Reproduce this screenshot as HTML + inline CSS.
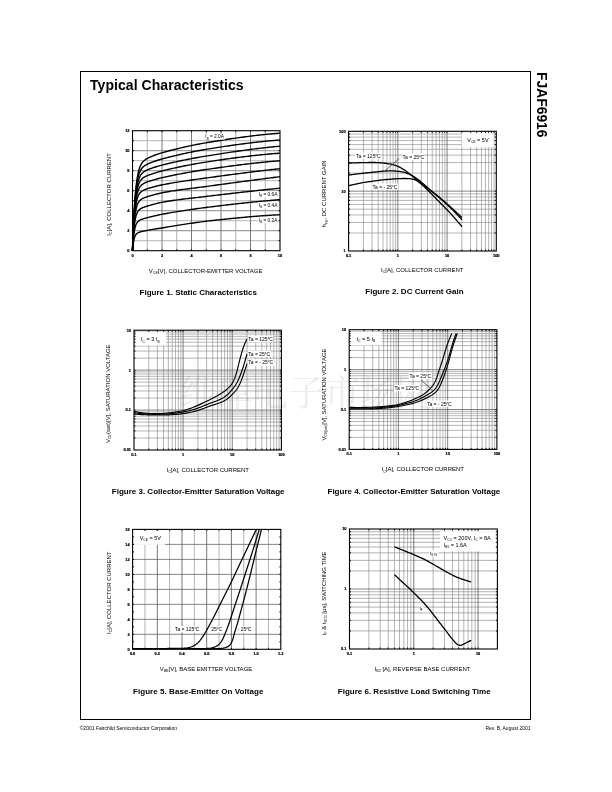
<!DOCTYPE html>
<html lang="en"><head><meta charset="utf-8"><title>FJAF6916 - Typical Characteristics</title>
<style>html,body{margin:0;padding:0;background:#fff}body{width:612px;height:792px;overflow:hidden}svg{display:block}text{font-family:"Liberation Sans",Arial,Helvetica,sans-serif}.wm{font-family:"Liberation Serif","Noto Serif CJK SC",serif}</style></head><body>
<svg width="612" height="792" viewBox="0 0 612 792">
<rect width="612" height="792" fill="#fff"/>
<text class="wm" x="306" y="405.7" font-size="36" text-anchor="middle" fill="#ededed">维库电子市场网</text>
<rect x="80.5" y="71.5" width="450" height="648" fill="none" stroke="#000" stroke-width="1"/>
<text x="90" y="89.8" font-size="14" font-weight="bold" textLength="153.6">Typical Characteristics</text>
<text x="0" y="0" transform="translate(536.6 72.1) rotate(90)" font-size="13.85" font-weight="bold">FJAF6916</text>
<text x="79.7" y="729.7" font-size="5">©2001 Fairchild Semiconductor Corporation</text>
<text x="530.6" y="729.7" font-size="5" text-anchor="end">Rev. B, August 2001</text>
<path d="M132.5 240.7H280M132.5 220.7H280M132.5 200.7H280M132.5 180.7H280M132.5 160.7H280M132.5 140.7H280" stroke="#c4c4c4" stroke-width="1.2" fill="none"/>
<path d="M147.25 130.7V250.7M176.75 130.7V250.7M206.25 130.7V250.7M235.75 130.7V250.7M265.25 130.7V250.7" stroke="#b0b0b0" stroke-width="1.0" fill="none"/>
<path d="M132.5 230.7H280M132.5 210.7H280M132.5 190.7H280M132.5 170.7H280M132.5 150.7H280" stroke="#a0a0a0" stroke-width="1.2" fill="none"/>
<path d="M162 130.7V250.7M191.5 130.7V250.7M221 130.7V250.7M250.5 130.7V250.7" stroke="#6a6a6a" stroke-width="0.9" fill="none"/>
<path d="M132.5 250.7 L132.69 244.98 L132.87 239.64 L133.06 234.63 L133.24 229.95 L133.43 225.57 L133.62 221.47 L133.8 217.63 L133.99 214.04 L134.17 210.68 L134.36 207.53 L134.55 204.58 L134.73 201.82 L134.92 199.24 L135.1 196.81 L135.29 194.55 L135.47 192.42 L135.66 190.43 L135.85 188.56 L136.03 186.81 L136.22 185.17 L136.4 183.62 L136.59 182.18 L136.78 180.82 L136.96 179.55 L137.15 178.36 L137.33 177.23 L137.52 176.18 L137.71 175.19 L137.89 174.26 L138.08 173.38 L138.26 172.55 L138.45 171.78 L138.64 171.05 L138.82 170.36 L139.01 169.71 L139.19 169.1 L139.38 168.52 L139.57 167.98 L139.75 167.46 L139.94 166.98 L140.12 166.52 L140.31 166.08 L140.49 165.67 L140.68 165.28 L140.87 164.91 L141.05 164.56 L141.24 164.23 L141.42 163.91 L141.61 163.61 L141.8 163.32 L141.98 163.05 L142.17 162.79 L142.35 162.54 L142.54 162.3 L142.73 162.07 L142.91 161.86 L143.1 161.65 L143.28 161.45 L143.47 161.26 L143.66 161.07 L143.84 160.9 L144.03 160.73 L144.21 160.56 L144.4 160.4 L144.59 160.25 L144.77 160.1 L144.96 159.96 L145.14 159.82 L145.33 159.69 L145.51 159.56 L145.7 159.43 L145.89 159.31 L146.07 159.19 L146.26 159.07 L146.44 158.95 L146.63 158.84 L146.82 158.73 L147 158.63 L147.19 158.52 L147.37 158.42 L147.56 158.32 L147.75 158.22 L147.93 158.13 L148.12 158.03 L148.3 157.94 L148.49 157.85 L148.68 157.76 L148.86 157.67 L149.05 157.58 L149.23 157.49 L149.42 157.4 L149.61 157.32 L149.79 157.23 L149.98 157.15 L150.16 157.07 L150.35 156.98 L150.53 156.9 L150.72 156.82 L150.91 156.74 L151.09 156.66 L151.28 156.58 L151.46 156.51 L151.65 156.43 L151.84 156.35 L152.02 156.28 L152.21 156.2 L152.39 156.13 L152.58 156.05 L152.77 155.98 L152.95 155.9 L153.14 155.83 L153.32 155.76 L153.51 155.68 L153.7 155.61 L153.88 155.54 L154.07 155.47 L154.25 155.4 L154.44 155.33 L154.62 155.26 L155.36 154.98 L156.94 154.42 L158.52 153.88 L160.1 153.37 L161.67 152.9 L163.25 152.44 L164.83 152 L166.41 151.56 L167.98 151.13 L169.56 150.71 L171.14 150.29 L172.72 149.88 L174.29 149.48 L175.87 149.09 L177.45 148.7 L179.03 148.32 L180.61 147.94 L182.18 147.57 L183.76 147.21 L185.34 146.86 L186.92 146.51 L188.49 146.17 L190.07 145.83 L191.65 145.5 L193.23 145.18 L194.8 144.86 L196.38 144.55 L197.96 144.25 L199.54 143.95 L201.12 143.66 L202.69 143.37 L204.27 143.09 L205.85 142.82 L207.43 142.55 L209 142.29 L210.58 142.02 L212.16 141.76 L213.74 141.5 L215.31 141.25 L216.89 140.99 L218.47 140.74 L220.05 140.49 L221.63 140.24 L223.2 139.99 L224.78 139.74 L226.36 139.5 L227.94 139.26 L229.51 139.02 L231.09 138.78 L232.67 138.55 L234.25 138.32 L235.82 138.09 L237.4 137.86 L238.98 137.64 L240.56 137.42 L242.14 137.21 L243.71 136.99 L245.29 136.78 L246.87 136.58 L248.45 136.37 L250.02 136.18 L251.6 135.98 L253.18 135.79 L254.76 135.6 L256.33 135.42 L257.91 135.24 L259.49 135.06 L261.07 134.89 L262.65 134.72 L264.22 134.56 L265.8 134.4 L267.38 134.25 L268.96 134.1 L270.53 133.96 L272.11 133.82 L273.69 133.68 L275.27 133.55 L276.84 133.43 L278.42 133.31 L280 133.2" fill="none" stroke="#000" stroke-width="1.4" stroke-linejoin="round"/>
<path d="M132.5 250.7 L132.69 245.15 L132.87 239.97 L133.06 235.14 L133.24 230.63 L133.43 226.42 L133.62 222.49 L133.8 218.81 L133.99 215.39 L134.17 212.19 L134.36 209.2 L134.55 206.41 L134.73 203.8 L134.92 201.36 L135.1 199.09 L135.29 196.96 L135.47 194.97 L135.66 193.11 L135.85 191.37 L136.03 189.74 L136.22 188.22 L136.4 186.8 L136.59 185.47 L136.78 184.22 L136.96 183.05 L137.15 181.95 L137.33 180.93 L137.52 179.97 L137.71 179.06 L137.89 178.22 L138.08 177.43 L138.26 176.68 L138.45 175.98 L138.64 175.32 L138.82 174.7 L139.01 174.12 L139.19 173.57 L139.38 173.06 L139.57 172.57 L139.75 172.11 L139.94 171.68 L140.12 171.27 L140.31 170.89 L140.49 170.52 L140.68 170.18 L140.87 169.85 L141.05 169.54 L141.24 169.25 L141.42 168.97 L141.61 168.7 L141.8 168.45 L141.98 168.21 L142.17 167.98 L142.35 167.76 L142.54 167.56 L142.73 167.36 L142.91 167.17 L143.1 166.98 L143.28 166.81 L143.47 166.64 L143.66 166.48 L143.84 166.32 L144.03 166.18 L144.21 166.03 L144.4 165.89 L144.59 165.76 L144.77 165.63 L144.96 165.5 L145.14 165.38 L145.33 165.26 L145.51 165.15 L145.7 165.03 L145.89 164.92 L146.07 164.82 L146.26 164.71 L146.44 164.61 L146.63 164.51 L146.82 164.42 L147 164.32 L147.19 164.23 L147.37 164.14 L147.56 164.05 L147.75 163.96 L147.93 163.88 L148.12 163.79 L148.3 163.71 L148.49 163.63 L148.68 163.54 L148.86 163.46 L149.05 163.38 L149.23 163.3 L149.42 163.23 L149.61 163.15 L149.79 163.07 L149.98 163 L150.16 162.92 L150.35 162.85 L150.53 162.77 L150.72 162.7 L150.91 162.63 L151.09 162.56 L151.28 162.49 L151.46 162.42 L151.65 162.35 L151.84 162.28 L152.02 162.21 L152.21 162.14 L152.39 162.07 L152.58 162 L152.77 161.93 L152.95 161.87 L153.14 161.8 L153.32 161.73 L153.51 161.67 L153.7 161.6 L153.88 161.53 L154.07 161.47 L154.25 161.41 L154.44 161.34 L154.62 161.28 L155.36 161.03 L156.94 160.51 L158.52 160.01 L160.1 159.54 L161.67 159.09 L163.25 158.66 L164.83 158.24 L166.41 157.83 L167.98 157.42 L169.56 157.02 L171.14 156.62 L172.72 156.23 L174.29 155.85 L175.87 155.47 L177.45 155.1 L179.03 154.73 L180.61 154.37 L182.18 154.02 L183.76 153.67 L185.34 153.33 L186.92 152.99 L188.49 152.66 L190.07 152.33 L191.65 152.02 L193.23 151.7 L194.8 151.39 L196.38 151.09 L197.96 150.8 L199.54 150.51 L201.12 150.22 L202.69 149.95 L204.27 149.67 L205.85 149.41 L207.43 149.14 L209 148.89 L210.58 148.63 L212.16 148.38 L213.74 148.13 L215.31 147.88 L216.89 147.63 L218.47 147.39 L220.05 147.14 L221.63 146.9 L223.2 146.66 L224.78 146.42 L226.36 146.18 L227.94 145.95 L229.51 145.71 L231.09 145.48 L232.67 145.26 L234.25 145.03 L235.82 144.81 L237.4 144.59 L238.98 144.37 L240.56 144.16 L242.14 143.95 L243.71 143.74 L245.29 143.54 L246.87 143.33 L248.45 143.14 L250.02 142.94 L251.6 142.75 L253.18 142.56 L254.76 142.38 L256.33 142.2 L257.91 142.02 L259.49 141.85 L261.07 141.68 L262.65 141.52 L264.22 141.36 L265.8 141.2 L267.38 141.05 L268.96 140.9 L270.53 140.76 L272.11 140.62 L273.69 140.49 L275.27 140.36 L276.84 140.23 L278.42 140.11 L280 140" fill="none" stroke="#000" stroke-width="1.4" stroke-linejoin="round"/>
<path d="M132.5 250.7 L132.69 245.33 L132.87 240.34 L133.06 235.69 L133.24 231.36 L133.43 227.33 L133.62 223.58 L133.8 220.09 L133.99 216.84 L134.17 213.81 L134.36 210.99 L134.55 208.36 L134.73 205.91 L134.92 203.63 L135.1 201.5 L135.29 199.52 L135.47 197.67 L135.66 195.95 L135.85 194.34 L136.03 192.84 L136.22 191.44 L136.4 190.13 L136.59 188.91 L136.78 187.78 L136.96 186.71 L137.15 185.72 L137.33 184.79 L137.52 183.92 L137.71 183.1 L137.89 182.34 L138.08 181.63 L138.26 180.96 L138.45 180.33 L138.64 179.74 L138.82 179.19 L139.01 178.67 L139.19 178.19 L139.38 177.73 L139.57 177.3 L139.75 176.89 L139.94 176.51 L140.12 176.15 L140.31 175.81 L140.49 175.49 L140.68 175.19 L140.87 174.9 L141.05 174.63 L141.24 174.37 L141.42 174.13 L141.61 173.9 L141.8 173.68 L141.98 173.47 L142.17 173.27 L142.35 173.08 L142.54 172.89 L142.73 172.72 L142.91 172.55 L143.1 172.39 L143.28 172.24 L143.47 172.09 L143.66 171.95 L143.84 171.81 L144.03 171.68 L144.21 171.55 L144.4 171.43 L144.59 171.31 L144.77 171.2 L144.96 171.09 L145.14 170.98 L145.33 170.87 L145.51 170.77 L145.7 170.67 L145.89 170.57 L146.07 170.48 L146.26 170.39 L146.44 170.3 L146.63 170.21 L146.82 170.12 L147 170.04 L147.19 169.95 L147.37 169.87 L147.56 169.79 L147.75 169.71 L147.93 169.63 L148.12 169.56 L148.3 169.48 L148.49 169.4 L148.68 169.33 L148.86 169.26 L149.05 169.18 L149.23 169.11 L149.42 169.04 L149.61 168.97 L149.79 168.9 L149.98 168.83 L150.16 168.76 L150.35 168.69 L150.53 168.62 L150.72 168.56 L150.91 168.49 L151.09 168.42 L151.28 168.36 L151.46 168.29 L151.65 168.23 L151.84 168.16 L152.02 168.1 L152.21 168.03 L152.39 167.97 L152.58 167.91 L152.77 167.84 L152.95 167.78 L153.14 167.72 L153.32 167.66 L153.51 167.6 L153.7 167.53 L153.88 167.47 L154.07 167.41 L154.25 167.35 L154.44 167.29 L154.62 167.23 L155.36 167 L156.94 166.51 L158.52 166.05 L160.1 165.6 L161.67 165.18 L163.25 164.78 L164.83 164.39 L166.41 164 L167.98 163.62 L169.56 163.25 L171.14 162.88 L172.72 162.52 L174.29 162.16 L175.87 161.81 L177.45 161.47 L179.03 161.13 L180.61 160.8 L182.18 160.47 L183.76 160.15 L185.34 159.83 L186.92 159.52 L188.49 159.21 L190.07 158.91 L191.65 158.61 L193.23 158.31 L194.8 158.02 L196.38 157.74 L197.96 157.46 L199.54 157.18 L201.12 156.91 L202.69 156.64 L204.27 156.37 L205.85 156.11 L207.43 155.85 L209 155.59 L210.58 155.33 L212.16 155.08 L213.74 154.82 L215.31 154.57 L216.89 154.32 L218.47 154.07 L220.05 153.83 L221.63 153.58 L223.2 153.34 L224.78 153.1 L226.36 152.86 L227.94 152.62 L229.51 152.38 L231.09 152.15 L232.67 151.92 L234.25 151.69 L235.82 151.46 L237.4 151.23 L238.98 151.01 L240.56 150.79 L242.14 150.57 L243.71 150.36 L245.29 150.14 L246.87 149.93 L248.45 149.72 L250.02 149.52 L251.6 149.31 L253.18 149.11 L254.76 148.92 L256.33 148.72 L257.91 148.53 L259.49 148.34 L261.07 148.16 L262.65 147.98 L264.22 147.8 L265.8 147.62 L267.38 147.45 L268.96 147.28 L270.53 147.12 L272.11 146.95 L273.69 146.8 L275.27 146.64 L276.84 146.49 L278.42 146.34 L280 146.2" fill="none" stroke="#000" stroke-width="1.4" stroke-linejoin="round"/>
<path d="M132.5 250.7 L132.69 245.54 L132.87 240.75 L133.06 236.31 L133.24 232.18 L133.43 228.35 L133.62 224.8 L133.8 221.5 L133.99 218.44 L134.17 215.59 L134.36 212.95 L134.55 210.49 L134.73 208.21 L134.92 206.09 L135.1 204.12 L135.29 202.29 L135.47 200.59 L135.66 199.01 L135.85 197.53 L136.03 196.16 L136.22 194.89 L136.4 193.7 L136.59 192.59 L136.78 191.56 L136.96 190.6 L137.15 189.7 L137.33 188.87 L137.52 188.09 L137.71 187.36 L137.89 186.68 L138.08 186.04 L138.26 185.45 L138.45 184.89 L138.64 184.37 L138.82 183.88 L139.01 183.42 L139.19 183 L139.38 182.59 L139.57 182.21 L139.75 181.86 L139.94 181.52 L140.12 181.21 L140.31 180.91 L140.49 180.63 L140.68 180.36 L140.87 180.11 L141.05 179.87 L141.24 179.64 L141.42 179.43 L141.61 179.23 L141.8 179.03 L141.98 178.85 L142.17 178.67 L142.35 178.5 L142.54 178.34 L142.73 178.19 L142.91 178.04 L143.1 177.9 L143.28 177.76 L143.47 177.63 L143.66 177.51 L143.84 177.39 L144.03 177.27 L144.21 177.15 L144.4 177.04 L144.59 176.94 L144.77 176.83 L144.96 176.73 L145.14 176.63 L145.33 176.54 L145.51 176.45 L145.7 176.35 L145.89 176.26 L146.07 176.18 L146.26 176.09 L146.44 176.01 L146.63 175.93 L146.82 175.85 L147 175.77 L147.19 175.69 L147.37 175.61 L147.56 175.54 L147.75 175.46 L147.93 175.39 L148.12 175.32 L148.3 175.25 L148.49 175.17 L148.68 175.1 L148.86 175.03 L149.05 174.96 L149.23 174.9 L149.42 174.83 L149.61 174.76 L149.79 174.69 L149.98 174.63 L150.16 174.56 L150.35 174.5 L150.53 174.43 L150.72 174.37 L150.91 174.3 L151.09 174.24 L151.28 174.17 L151.46 174.11 L151.65 174.05 L151.84 173.99 L152.02 173.92 L152.21 173.86 L152.39 173.8 L152.58 173.74 L152.77 173.68 L152.95 173.62 L153.14 173.56 L153.32 173.5 L153.51 173.44 L153.7 173.38 L153.88 173.32 L154.07 173.26 L154.25 173.2 L154.44 173.14 L154.62 173.09 L155.36 172.86 L156.94 172.38 L158.52 171.93 L160.1 171.5 L161.67 171.08 L163.25 170.69 L164.83 170.3 L166.41 169.92 L167.98 169.54 L169.56 169.16 L171.14 168.8 L172.72 168.44 L174.29 168.08 L175.87 167.73 L177.45 167.38 L179.03 167.04 L180.61 166.71 L182.18 166.38 L183.76 166.06 L185.34 165.74 L186.92 165.43 L188.49 165.12 L190.07 164.82 L191.65 164.52 L193.23 164.23 L194.8 163.94 L196.38 163.66 L197.96 163.38 L199.54 163.11 L201.12 162.85 L202.69 162.59 L204.27 162.33 L205.85 162.08 L207.43 161.84 L209 161.6 L210.58 161.36 L212.16 161.12 L213.74 160.88 L215.31 160.65 L216.89 160.42 L218.47 160.18 L220.05 159.96 L221.63 159.73 L223.2 159.5 L224.78 159.28 L226.36 159.05 L227.94 158.83 L229.51 158.62 L231.09 158.4 L232.67 158.19 L234.25 157.97 L235.82 157.76 L237.4 157.56 L238.98 157.35 L240.56 157.15 L242.14 156.95 L243.71 156.76 L245.29 156.57 L246.87 156.38 L248.45 156.19 L250.02 156 L251.6 155.82 L253.18 155.65 L254.76 155.47 L256.33 155.3 L257.91 155.13 L259.49 154.97 L261.07 154.81 L262.65 154.65 L264.22 154.5 L265.8 154.35 L267.38 154.21 L268.96 154.07 L270.53 153.93 L272.11 153.8 L273.69 153.67 L275.27 153.55 L276.84 153.43 L278.42 153.31 L280 153.2" fill="none" stroke="#000" stroke-width="1.4" stroke-linejoin="round"/>
<path d="M132.5 250.7 L132.69 245.77 L132.87 241.21 L133.06 236.99 L133.24 233.09 L133.43 229.48 L133.62 226.14 L133.8 223.05 L133.99 220.19 L134.17 217.55 L134.36 215.1 L134.55 212.83 L134.73 210.73 L134.92 208.79 L135.1 206.98 L135.29 205.31 L135.47 203.77 L135.66 202.33 L135.85 201 L136.03 199.77 L136.22 198.63 L136.4 197.56 L136.59 196.58 L136.78 195.66 L136.96 194.81 L137.15 194.02 L137.33 193.28 L137.52 192.6 L137.71 191.96 L137.89 191.36 L138.08 190.81 L138.26 190.29 L138.45 189.81 L138.64 189.36 L138.82 188.94 L139.01 188.55 L139.19 188.18 L139.38 187.83 L139.57 187.51 L139.75 187.2 L139.94 186.92 L140.12 186.65 L140.31 186.39 L140.49 186.15 L140.68 185.93 L140.87 185.72 L141.05 185.51 L141.24 185.32 L141.42 185.14 L141.61 184.97 L141.8 184.8 L141.98 184.65 L142.17 184.5 L142.35 184.36 L142.54 184.22 L142.73 184.09 L142.91 183.97 L143.1 183.85 L143.28 183.73 L143.47 183.62 L143.66 183.51 L143.84 183.41 L144.03 183.31 L144.21 183.21 L144.4 183.11 L144.59 183.02 L144.77 182.93 L144.96 182.85 L145.14 182.76 L145.33 182.68 L145.51 182.6 L145.7 182.52 L145.89 182.44 L146.07 182.36 L146.26 182.29 L146.44 182.22 L146.63 182.15 L146.82 182.08 L147 182.01 L147.19 181.94 L147.37 181.87 L147.56 181.8 L147.75 181.74 L147.93 181.67 L148.12 181.61 L148.3 181.54 L148.49 181.48 L148.68 181.42 L148.86 181.36 L149.05 181.29 L149.23 181.23 L149.42 181.17 L149.61 181.11 L149.79 181.05 L149.98 180.99 L150.16 180.93 L150.35 180.87 L150.53 180.82 L150.72 180.76 L150.91 180.7 L151.09 180.64 L151.28 180.58 L151.46 180.53 L151.65 180.47 L151.84 180.41 L152.02 180.36 L152.21 180.3 L152.39 180.25 L152.58 180.19 L152.77 180.14 L152.95 180.08 L153.14 180.03 L153.32 179.97 L153.51 179.92 L153.7 179.86 L153.88 179.81 L154.07 179.76 L154.25 179.7 L154.44 179.65 L154.62 179.6 L155.36 179.39 L156.94 178.96 L158.52 178.55 L160.1 178.15 L161.67 177.78 L163.25 177.42 L164.83 177.06 L166.41 176.71 L167.98 176.37 L169.56 176.03 L171.14 175.7 L172.72 175.37 L174.29 175.05 L175.87 174.74 L177.45 174.42 L179.03 174.12 L180.61 173.82 L182.18 173.52 L183.76 173.23 L185.34 172.94 L186.92 172.65 L188.49 172.37 L190.07 172.1 L191.65 171.83 L193.23 171.56 L194.8 171.3 L196.38 171.04 L197.96 170.79 L199.54 170.53 L201.12 170.29 L202.69 170.04 L204.27 169.8 L205.85 169.56 L207.43 169.33 L209 169.1 L210.58 168.87 L212.16 168.64 L213.74 168.41 L215.31 168.19 L216.89 167.96 L218.47 167.74 L220.05 167.52 L221.63 167.3 L223.2 167.08 L224.78 166.86 L226.36 166.65 L227.94 166.43 L229.51 166.22 L231.09 166.01 L232.67 165.8 L234.25 165.6 L235.82 165.39 L237.4 165.19 L238.98 164.99 L240.56 164.79 L242.14 164.6 L243.71 164.4 L245.29 164.21 L246.87 164.02 L248.45 163.84 L250.02 163.65 L251.6 163.47 L253.18 163.29 L254.76 163.12 L256.33 162.94 L257.91 162.77 L259.49 162.6 L261.07 162.44 L262.65 162.28 L264.22 162.12 L265.8 161.96 L267.38 161.81 L268.96 161.66 L270.53 161.51 L272.11 161.37 L273.69 161.23 L275.27 161.09 L276.84 160.96 L278.42 160.83 L280 160.7" fill="none" stroke="#000" stroke-width="1.4" stroke-linejoin="round"/>
<path d="M132.5 250.7 L132.69 246.05 L132.87 241.77 L133.06 237.82 L133.24 234.19 L133.43 230.84 L133.62 227.76 L133.8 224.92 L133.99 222.3 L134.17 219.89 L134.36 217.66 L134.55 215.61 L134.73 213.72 L134.92 211.97 L135.1 210.36 L135.29 208.87 L135.47 207.5 L135.66 206.23 L135.85 205.06 L136.03 203.98 L136.22 202.98 L136.4 202.05 L136.59 201.2 L136.78 200.4 L136.96 199.67 L137.15 198.99 L137.33 198.36 L137.52 197.77 L137.71 197.23 L137.89 196.73 L138.08 196.26 L138.26 195.82 L138.45 195.42 L138.64 195.04 L138.82 194.68 L139.01 194.35 L139.19 194.05 L139.38 193.76 L139.57 193.49 L139.75 193.24 L139.94 193 L140.12 192.77 L140.31 192.56 L140.49 192.37 L140.68 192.18 L140.87 192 L141.05 191.84 L141.24 191.68 L141.42 191.53 L141.61 191.38 L141.8 191.25 L141.98 191.12 L142.17 190.99 L142.35 190.87 L142.54 190.76 L142.73 190.65 L142.91 190.55 L143.1 190.45 L143.28 190.35 L143.47 190.25 L143.66 190.16 L143.84 190.07 L144.03 189.99 L144.21 189.9 L144.4 189.82 L144.59 189.74 L144.77 189.67 L144.96 189.59 L145.14 189.52 L145.33 189.45 L145.51 189.38 L145.7 189.31 L145.89 189.24 L146.07 189.17 L146.26 189.11 L146.44 189.04 L146.63 188.98 L146.82 188.92 L147 188.85 L147.19 188.79 L147.37 188.73 L147.56 188.67 L147.75 188.61 L147.93 188.56 L148.12 188.5 L148.3 188.44 L148.49 188.38 L148.68 188.33 L148.86 188.27 L149.05 188.21 L149.23 188.16 L149.42 188.1 L149.61 188.05 L149.79 187.99 L149.98 187.94 L150.16 187.88 L150.35 187.83 L150.53 187.77 L150.72 187.72 L150.91 187.67 L151.09 187.61 L151.28 187.56 L151.46 187.51 L151.65 187.45 L151.84 187.4 L152.02 187.35 L152.21 187.3 L152.39 187.24 L152.58 187.19 L152.77 187.14 L152.95 187.09 L153.14 187.04 L153.32 186.99 L153.51 186.94 L153.7 186.89 L153.88 186.84 L154.07 186.79 L154.25 186.74 L154.44 186.69 L154.62 186.64 L155.36 186.45 L156.94 186.05 L158.52 185.66 L160.1 185.3 L161.67 184.97 L163.25 184.65 L164.83 184.34 L166.41 184.04 L167.98 183.75 L169.56 183.46 L171.14 183.18 L172.72 182.91 L174.29 182.64 L175.87 182.38 L177.45 182.12 L179.03 181.87 L180.61 181.62 L182.18 181.38 L183.76 181.15 L185.34 180.91 L186.92 180.68 L188.49 180.45 L190.07 180.23 L191.65 180 L193.23 179.78 L194.8 179.56 L196.38 179.35 L197.96 179.13 L199.54 178.91 L201.12 178.7 L202.69 178.48 L204.27 178.26 L205.85 178.04 L207.43 177.82 L209 177.6 L210.58 177.38 L212.16 177.16 L213.74 176.95 L215.31 176.73 L216.89 176.51 L218.47 176.29 L220.05 176.08 L221.63 175.86 L223.2 175.65 L224.78 175.44 L226.36 175.23 L227.94 175.02 L229.51 174.81 L231.09 174.6 L232.67 174.39 L234.25 174.18 L235.82 173.98 L237.4 173.77 L238.98 173.57 L240.56 173.37 L242.14 173.16 L243.71 172.96 L245.29 172.76 L246.87 172.57 L248.45 172.37 L250.02 172.17 L251.6 171.98 L253.18 171.79 L254.76 171.59 L256.33 171.4 L257.91 171.21 L259.49 171.02 L261.07 170.84 L262.65 170.65 L264.22 170.47 L265.8 170.28 L267.38 170.1 L268.96 169.92 L270.53 169.74 L272.11 169.57 L273.69 169.39 L275.27 169.22 L276.84 169.04 L278.42 168.87 L280 168.7" fill="none" stroke="#000" stroke-width="1.4" stroke-linejoin="round"/>
<path d="M132.5 250.7 L132.69 246.44 L132.87 242.55 L133.06 238.97 L133.24 235.7 L133.43 232.7 L133.62 229.96 L133.8 227.44 L133.99 225.13 L134.17 223.01 L134.36 221.07 L134.55 219.29 L134.73 217.65 L134.92 216.15 L135.1 214.77 L135.29 213.51 L135.47 212.35 L135.66 211.28 L135.85 210.29 L136.03 209.39 L136.22 208.55 L136.4 207.78 L136.59 207.08 L136.78 206.42 L136.96 205.82 L137.15 205.27 L137.33 204.75 L137.52 204.28 L137.71 203.83 L137.89 203.43 L138.08 203.05 L138.26 202.7 L138.45 202.37 L138.64 202.06 L138.82 201.78 L139.01 201.51 L139.19 201.27 L139.38 201.03 L139.57 200.82 L139.75 200.61 L139.94 200.42 L140.12 200.24 L140.31 200.07 L140.49 199.91 L140.68 199.76 L140.87 199.61 L141.05 199.47 L141.24 199.34 L141.42 199.22 L141.61 199.1 L141.8 198.98 L141.98 198.87 L142.17 198.77 L142.35 198.67 L142.54 198.57 L142.73 198.47 L142.91 198.38 L143.1 198.29 L143.28 198.21 L143.47 198.13 L143.66 198.04 L143.84 197.96 L144.03 197.89 L144.21 197.81 L144.4 197.74 L144.59 197.66 L144.77 197.59 L144.96 197.52 L145.14 197.46 L145.33 197.39 L145.51 197.32 L145.7 197.26 L145.89 197.19 L146.07 197.13 L146.26 197.06 L146.44 197 L146.63 196.94 L146.82 196.88 L147 196.82 L147.19 196.76 L147.37 196.7 L147.56 196.64 L147.75 196.58 L147.93 196.53 L148.12 196.47 L148.3 196.41 L148.49 196.35 L148.68 196.29 L148.86 196.24 L149.05 196.18 L149.23 196.12 L149.42 196.07 L149.61 196.01 L149.79 195.95 L149.98 195.9 L150.16 195.84 L150.35 195.79 L150.53 195.73 L150.72 195.68 L150.91 195.62 L151.09 195.57 L151.28 195.51 L151.46 195.46 L151.65 195.4 L151.84 195.35 L152.02 195.29 L152.21 195.24 L152.39 195.19 L152.58 195.13 L152.77 195.08 L152.95 195.03 L153.14 194.97 L153.32 194.92 L153.51 194.87 L153.7 194.82 L153.88 194.77 L154.07 194.71 L154.25 194.66 L154.44 194.61 L154.62 194.56 L155.36 194.36 L156.94 193.95 L158.52 193.56 L160.1 193.2 L161.67 192.86 L163.25 192.56 L164.83 192.26 L166.41 191.98 L167.98 191.7 L169.56 191.44 L171.14 191.18 L172.72 190.93 L174.29 190.69 L175.87 190.45 L177.45 190.22 L179.03 190 L180.61 189.78 L182.18 189.56 L183.76 189.35 L185.34 189.14 L186.92 188.94 L188.49 188.74 L190.07 188.54 L191.65 188.34 L193.23 188.14 L194.8 187.95 L196.38 187.75 L197.96 187.55 L199.54 187.35 L201.12 187.15 L202.69 186.95 L204.27 186.74 L205.85 186.53 L207.43 186.32 L209 186.11 L210.58 185.89 L212.16 185.67 L213.74 185.46 L215.31 185.24 L216.89 185.02 L218.47 184.81 L220.05 184.59 L221.63 184.38 L223.2 184.16 L224.78 183.95 L226.36 183.74 L227.94 183.52 L229.51 183.31 L231.09 183.1 L232.67 182.88 L234.25 182.67 L235.82 182.46 L237.4 182.25 L238.98 182.04 L240.56 181.83 L242.14 181.62 L243.71 181.41 L245.29 181.2 L246.87 180.99 L248.45 180.78 L250.02 180.57 L251.6 180.37 L253.18 180.16 L254.76 179.95 L256.33 179.74 L257.91 179.54 L259.49 179.33 L261.07 179.13 L262.65 178.92 L264.22 178.72 L265.8 178.51 L267.38 178.31 L268.96 178.11 L270.53 177.91 L272.11 177.7 L273.69 177.5 L275.27 177.3 L276.84 177.1 L278.42 176.9 L280 176.7" fill="none" stroke="#000" stroke-width="1.4" stroke-linejoin="round"/>
<path d="M132.5 250.7 L132.69 246.96 L132.87 243.56 L133.06 240.47 L133.24 237.66 L133.43 235.11 L133.62 232.78 L133.8 230.66 L133.99 228.73 L134.17 226.98 L134.36 225.38 L134.55 223.92 L134.73 222.59 L134.92 221.38 L135.1 220.27 L135.29 219.26 L135.47 218.34 L135.66 217.49 L135.85 216.72 L136.03 216.02 L136.22 215.37 L136.4 214.78 L136.59 214.23 L136.78 213.73 L136.96 213.28 L137.15 212.85 L137.33 212.46 L137.52 212.1 L137.71 211.77 L137.89 211.47 L138.08 211.18 L138.26 210.92 L138.45 210.67 L138.64 210.45 L138.82 210.23 L139.01 210.03 L139.19 209.85 L139.38 209.67 L139.57 209.51 L139.75 209.36 L139.94 209.21 L140.12 209.07 L140.31 208.94 L140.49 208.82 L140.68 208.7 L140.87 208.59 L141.05 208.48 L141.24 208.38 L141.42 208.28 L141.61 208.18 L141.8 208.09 L141.98 208 L142.17 207.92 L142.35 207.83 L142.54 207.75 L142.73 207.67 L142.91 207.59 L143.1 207.52 L143.28 207.45 L143.47 207.37 L143.66 207.3 L143.84 207.24 L144.03 207.17 L144.21 207.1 L144.4 207.04 L144.59 206.97 L144.77 206.91 L144.96 206.84 L145.14 206.78 L145.33 206.72 L145.51 206.66 L145.7 206.6 L145.89 206.54 L146.07 206.48 L146.26 206.42 L146.44 206.36 L146.63 206.31 L146.82 206.25 L147 206.19 L147.19 206.14 L147.37 206.08 L147.56 206.02 L147.75 205.97 L147.93 205.91 L148.12 205.86 L148.3 205.8 L148.49 205.75 L148.68 205.69 L148.86 205.64 L149.05 205.58 L149.23 205.53 L149.42 205.47 L149.61 205.42 L149.79 205.37 L149.98 205.31 L150.16 205.26 L150.35 205.2 L150.53 205.15 L150.72 205.09 L150.91 205.04 L151.09 204.99 L151.28 204.93 L151.46 204.88 L151.65 204.83 L151.84 204.78 L152.02 204.72 L152.21 204.67 L152.39 204.62 L152.58 204.57 L152.77 204.51 L152.95 204.46 L153.14 204.41 L153.32 204.36 L153.51 204.31 L153.7 204.26 L153.88 204.2 L154.07 204.15 L154.25 204.1 L154.44 204.05 L154.62 204 L155.36 203.81 L156.94 203.41 L158.52 203.03 L160.1 202.68 L161.67 202.36 L163.25 202.07 L164.83 201.79 L166.41 201.53 L167.98 201.27 L169.56 201.01 L171.14 200.77 L172.72 200.53 L174.29 200.31 L175.87 200.08 L177.45 199.87 L179.03 199.66 L180.61 199.45 L182.18 199.25 L183.76 199.06 L185.34 198.86 L186.92 198.67 L188.49 198.49 L190.07 198.3 L191.65 198.12 L193.23 197.94 L194.8 197.76 L196.38 197.58 L197.96 197.41 L199.54 197.23 L201.12 197.05 L202.69 196.86 L204.27 196.68 L205.85 196.5 L207.43 196.31 L209 196.12 L210.58 195.93 L212.16 195.73 L213.74 195.54 L215.31 195.35 L216.89 195.17 L218.47 194.98 L220.05 194.79 L221.63 194.6 L223.2 194.42 L224.78 194.23 L226.36 194.04 L227.94 193.86 L229.51 193.68 L231.09 193.49 L232.67 193.31 L234.25 193.13 L235.82 192.95 L237.4 192.77 L238.98 192.59 L240.56 192.41 L242.14 192.23 L243.71 192.05 L245.29 191.87 L246.87 191.7 L248.45 191.52 L250.02 191.35 L251.6 191.18 L253.18 191 L254.76 190.83 L256.33 190.66 L257.91 190.49 L259.49 190.32 L261.07 190.15 L262.65 189.98 L264.22 189.82 L265.8 189.65 L267.38 189.49 L268.96 189.32 L270.53 189.16 L272.11 189 L273.69 188.84 L275.27 188.67 L276.84 188.52 L278.42 188.36 L280 188.2" fill="none" stroke="#000" stroke-width="1.4" stroke-linejoin="round"/>
<path d="M132.5 250.7 L132.69 247.71 L132.87 245.02 L133.06 242.6 L133.24 240.42 L133.43 238.45 L133.62 236.69 L133.8 235.09 L133.99 233.66 L134.17 232.36 L134.36 231.2 L134.55 230.14 L134.73 229.19 L134.92 228.33 L135.1 227.55 L135.29 226.84 L135.47 226.21 L135.66 225.63 L135.85 225.1 L136.03 224.62 L136.22 224.19 L136.4 223.79 L136.59 223.43 L136.78 223.1 L136.96 222.8 L137.15 222.52 L137.33 222.27 L137.52 222.03 L137.71 221.82 L137.89 221.62 L138.08 221.43 L138.26 221.26 L138.45 221.1 L138.64 220.95 L138.82 220.81 L139.01 220.68 L139.19 220.56 L139.38 220.44 L139.57 220.33 L139.75 220.23 L139.94 220.13 L140.12 220.04 L140.31 219.95 L140.49 219.86 L140.68 219.78 L140.87 219.7 L141.05 219.62 L141.24 219.54 L141.42 219.47 L141.61 219.4 L141.8 219.33 L141.98 219.27 L142.17 219.2 L142.35 219.14 L142.54 219.07 L142.73 219.01 L142.91 218.95 L143.1 218.89 L143.28 218.83 L143.47 218.77 L143.66 218.72 L143.84 218.66 L144.03 218.6 L144.21 218.55 L144.4 218.49 L144.59 218.44 L144.77 218.39 L144.96 218.33 L145.14 218.28 L145.33 218.23 L145.51 218.18 L145.7 218.12 L145.89 218.07 L146.07 218.02 L146.26 217.97 L146.44 217.92 L146.63 217.87 L146.82 217.82 L147 217.77 L147.19 217.72 L147.37 217.67 L147.56 217.62 L147.75 217.58 L147.93 217.53 L148.12 217.48 L148.3 217.43 L148.49 217.38 L148.68 217.33 L148.86 217.29 L149.05 217.24 L149.23 217.19 L149.42 217.14 L149.61 217.1 L149.79 217.05 L149.98 217 L150.16 216.95 L150.35 216.91 L150.53 216.86 L150.72 216.81 L150.91 216.77 L151.09 216.72 L151.28 216.68 L151.46 216.63 L151.65 216.58 L151.84 216.54 L152.02 216.49 L152.21 216.45 L152.39 216.4 L152.58 216.36 L152.77 216.31 L152.95 216.27 L153.14 216.22 L153.32 216.18 L153.51 216.13 L153.7 216.09 L153.88 216.05 L154.07 216 L154.25 215.96 L154.44 215.91 L154.62 215.87 L155.36 215.7 L156.94 215.35 L158.52 215 L160.1 214.68 L161.67 214.36 L163.25 214.06 L164.83 213.77 L166.41 213.48 L167.98 213.19 L169.56 212.91 L171.14 212.64 L172.72 212.37 L174.29 212.1 L175.87 211.84 L177.45 211.58 L179.03 211.33 L180.61 211.08 L182.18 210.83 L183.76 210.59 L185.34 210.35 L186.92 210.11 L188.49 209.88 L190.07 209.65 L191.65 209.43 L193.23 209.2 L194.8 208.98 L196.38 208.76 L197.96 208.55 L199.54 208.34 L201.12 208.13 L202.69 207.92 L204.27 207.72 L205.85 207.51 L207.43 207.31 L209 207.11 L210.58 206.92 L212.16 206.72 L213.74 206.52 L215.31 206.33 L216.89 206.13 L218.47 205.94 L220.05 205.75 L221.63 205.56 L223.2 205.37 L224.78 205.18 L226.36 205 L227.94 204.81 L229.51 204.63 L231.09 204.44 L232.67 204.26 L234.25 204.08 L235.82 203.91 L237.4 203.73 L238.98 203.55 L240.56 203.38 L242.14 203.21 L243.71 203.04 L245.29 202.87 L246.87 202.71 L248.45 202.54 L250.02 202.38 L251.6 202.22 L253.18 202.06 L254.76 201.9 L256.33 201.75 L257.91 201.6 L259.49 201.45 L261.07 201.3 L262.65 201.15 L264.22 201.01 L265.8 200.87 L267.38 200.73 L268.96 200.59 L270.53 200.46 L272.11 200.32 L273.69 200.19 L275.27 200.07 L276.84 199.94 L278.42 199.82 L280 199.7" fill="none" stroke="#000" stroke-width="1.4" stroke-linejoin="round"/>
<path d="M132.5 250.7 L132.69 248.68 L132.87 246.9 L133.06 245.31 L133.24 243.9 L133.43 242.65 L133.62 241.54 L133.8 240.55 L133.99 239.67 L134.17 238.89 L134.36 238.19 L134.55 237.57 L134.73 237.01 L134.92 236.52 L135.1 236.07 L135.29 235.68 L135.47 235.32 L135.66 235 L135.85 234.71 L136.03 234.45 L136.22 234.22 L136.4 234 L136.59 233.81 L136.78 233.64 L136.96 233.48 L137.15 233.33 L137.33 233.2 L137.52 233.07 L137.71 232.96 L137.89 232.85 L138.08 232.75 L138.26 232.66 L138.45 232.58 L138.64 232.5 L138.82 232.42 L139.01 232.35 L139.19 232.28 L139.38 232.22 L139.57 232.15 L139.75 232.09 L139.94 232.04 L140.12 231.98 L140.31 231.93 L140.49 231.87 L140.68 231.82 L140.87 231.77 L141.05 231.73 L141.24 231.68 L141.42 231.63 L141.61 231.59 L141.8 231.54 L141.98 231.5 L142.17 231.46 L142.35 231.41 L142.54 231.37 L142.73 231.33 L142.91 231.29 L143.1 231.25 L143.28 231.21 L143.47 231.17 L143.66 231.13 L143.84 231.09 L144.03 231.05 L144.21 231.01 L144.4 230.97 L144.59 230.93 L144.77 230.89 L144.96 230.86 L145.14 230.82 L145.33 230.78 L145.51 230.74 L145.7 230.7 L145.89 230.67 L146.07 230.63 L146.26 230.59 L146.44 230.56 L146.63 230.52 L146.82 230.48 L147 230.45 L147.19 230.41 L147.37 230.38 L147.56 230.34 L147.75 230.31 L147.93 230.27 L148.12 230.24 L148.3 230.2 L148.49 230.17 L148.68 230.13 L148.86 230.1 L149.05 230.06 L149.23 230.03 L149.42 230 L149.61 229.96 L149.79 229.93 L149.98 229.89 L150.16 229.86 L150.35 229.83 L150.53 229.79 L150.72 229.76 L150.91 229.73 L151.09 229.7 L151.28 229.66 L151.46 229.63 L151.65 229.6 L151.84 229.57 L152.02 229.53 L152.21 229.5 L152.39 229.47 L152.58 229.44 L152.77 229.41 L152.95 229.37 L153.14 229.34 L153.32 229.31 L153.51 229.28 L153.7 229.25 L153.88 229.22 L154.07 229.19 L154.25 229.15 L154.44 229.12 L154.62 229.09 L155.36 228.97 L156.94 228.71 L158.52 228.46 L160.1 228.2 L161.67 227.95 L163.25 227.7 L164.83 227.44 L166.41 227.19 L167.98 226.93 L169.56 226.68 L171.14 226.42 L172.72 226.16 L174.29 225.91 L175.87 225.65 L177.45 225.4 L179.03 225.14 L180.61 224.89 L182.18 224.64 L183.76 224.39 L185.34 224.15 L186.92 223.9 L188.49 223.66 L190.07 223.42 L191.65 223.19 L193.23 222.96 L194.8 222.73 L196.38 222.51 L197.96 222.3 L199.54 222.08 L201.12 221.88 L202.69 221.67 L204.27 221.48 L205.85 221.29 L207.43 221.1 L209 220.92 L210.58 220.75 L212.16 220.57 L213.74 220.39 L215.31 220.22 L216.89 220.05 L218.47 219.88 L220.05 219.71 L221.63 219.54 L223.2 219.37 L224.78 219.2 L226.36 219.04 L227.94 218.87 L229.51 218.71 L231.09 218.55 L232.67 218.39 L234.25 218.24 L235.82 218.08 L237.4 217.93 L238.98 217.78 L240.56 217.63 L242.14 217.48 L243.71 217.34 L245.29 217.19 L246.87 217.05 L248.45 216.91 L250.02 216.78 L251.6 216.64 L253.18 216.51 L254.76 216.38 L256.33 216.26 L257.91 216.13 L259.49 216.01 L261.07 215.89 L262.65 215.78 L264.22 215.66 L265.8 215.55 L267.38 215.45 L268.96 215.34 L270.53 215.24 L272.11 215.14 L273.69 215.05 L275.27 214.96 L276.84 214.87 L278.42 214.78 L280 214.7" fill="none" stroke="#000" stroke-width="1.4" stroke-linejoin="round"/>
<rect x="204.5" y="133.6" width="20.5" height="6" fill="#fff"/>
<text x="205.3" y="138.3" font-size="4.8">I<tspan dy="1.3" font-size="60%">B</tspan><tspan dy="-1.3"> = 2.0A</tspan></text>
<rect x="258" y="191.3" width="21" height="6.2" fill="#fff"/>
<text x="258.9" y="195.9" font-size="4.8">I<tspan dy="1.3" font-size="60%">B</tspan><tspan dy="-1.3"> = 0.6A</tspan></text>
<rect x="258" y="202.2" width="21" height="6.2" fill="#fff"/>
<text x="258.9" y="206.8" font-size="4.8">I<tspan dy="1.3" font-size="60%">B</tspan><tspan dy="-1.3"> = 0.4A</tspan></text>
<rect x="258" y="217" width="21" height="6.2" fill="#fff"/>
<text x="258.9" y="221.6" font-size="4.8">I<tspan dy="1.3" font-size="60%">B</tspan><tspan dy="-1.3"> = 0.2A</tspan></text>
<rect x="132.5" y="130.7" width="147.5" height="120" fill="none" stroke="#000" stroke-width="1.1"/>
<path d="M147.25 250.7v-1.5M147.25 130.7v1.5M162 250.7v-1.5M162 130.7v1.5M176.75 250.7v-1.5M176.75 130.7v1.5M191.5 250.7v-1.5M191.5 130.7v1.5M206.25 250.7v-1.5M206.25 130.7v1.5M221 250.7v-1.5M221 130.7v1.5M235.75 250.7v-1.5M235.75 130.7v1.5M250.5 250.7v-1.5M250.5 130.7v1.5M265.25 250.7v-1.5M265.25 130.7v1.5M132.5 240.7h1.5M280 240.7h-1.5M132.5 230.7h1.5M280 230.7h-1.5M132.5 220.7h1.5M280 220.7h-1.5M132.5 210.7h1.5M280 210.7h-1.5M132.5 200.7h1.5M280 200.7h-1.5M132.5 190.7h1.5M280 190.7h-1.5M132.5 180.7h1.5M280 180.7h-1.5M132.5 170.7h1.5M280 170.7h-1.5M132.5 160.7h1.5M280 160.7h-1.5M132.5 150.7h1.5M280 150.7h-1.5M132.5 140.7h1.5M280 140.7h-1.5" stroke="#000" stroke-width="0.9" fill="none"/>
<text x="132.5" y="256.7" font-size="3.9" font-weight="bold" text-anchor="middle" stroke="#000" stroke-width="0.2">0</text>
<text x="162" y="256.7" font-size="3.9" font-weight="bold" text-anchor="middle" stroke="#000" stroke-width="0.2">2</text>
<text x="191.5" y="256.7" font-size="3.9" font-weight="bold" text-anchor="middle" stroke="#000" stroke-width="0.2">4</text>
<text x="221" y="256.7" font-size="3.9" font-weight="bold" text-anchor="middle" stroke="#000" stroke-width="0.2">6</text>
<text x="250.5" y="256.7" font-size="3.9" font-weight="bold" text-anchor="middle" stroke="#000" stroke-width="0.2">8</text>
<text x="280" y="256.7" font-size="3.9" font-weight="bold" text-anchor="middle" stroke="#000" stroke-width="0.2">10</text>
<text x="129.5" y="252.1" font-size="3.9" font-weight="bold" text-anchor="end" stroke="#000" stroke-width="0.2">0</text>
<text x="129.5" y="232.1" font-size="3.9" font-weight="bold" text-anchor="end" stroke="#000" stroke-width="0.2">2</text>
<text x="129.5" y="212.1" font-size="3.9" font-weight="bold" text-anchor="end" stroke="#000" stroke-width="0.2">4</text>
<text x="129.5" y="192.1" font-size="3.9" font-weight="bold" text-anchor="end" stroke="#000" stroke-width="0.2">6</text>
<text x="129.5" y="172.1" font-size="3.9" font-weight="bold" text-anchor="end" stroke="#000" stroke-width="0.2">8</text>
<text x="129.5" y="152.1" font-size="3.9" font-weight="bold" text-anchor="end" stroke="#000" stroke-width="0.2">10</text>
<text x="129.5" y="132.1" font-size="3.9" font-weight="bold" text-anchor="end" stroke="#000" stroke-width="0.2">12</text>
<text x="148.8" y="272.8" font-size="6">V<tspan dy="1.3" font-size="60%">CE</tspan><tspan dy="-1.3">[V], COLLECTOR-EMITTER VOLTAGE</tspan></text>
<text x="0" y="0" transform="translate(111.1 235.7) rotate(-90)" font-size="6">I<tspan dy="1.3" font-size="60%">C</tspan><tspan dy="-1.3">[A], COLLECTOR CURRENT</tspan></text>
<text x="139.6" y="294.7" font-size="8" font-weight="bold">Figure 1. Static Characteristics</text>
<path d="M348.6 232.98H496.3M348.6 222.44H496.3M348.6 214.97H496.3M348.6 209.17H496.3M348.6 204.43H496.3M348.6 200.42H496.3M348.6 196.95H496.3M348.6 193.89H496.3M348.6 173.13H496.3M348.6 162.59H496.3M348.6 155.12H496.3M348.6 149.32H496.3M348.6 144.58H496.3M348.6 140.57H496.3M348.6 137.1H496.3M348.6 134.04H496.3" stroke="#848484" stroke-width="0.6" fill="none"/>
<path d="M363.42 131.3V251M372.09 131.3V251M378.24 131.3V251M383.01 131.3V251M386.91 131.3V251M390.21 131.3V251M393.06 131.3V251M395.58 131.3V251M412.65 131.3V251M421.32 131.3V251M427.47 131.3V251M432.25 131.3V251M436.14 131.3V251M439.44 131.3V251M442.3 131.3V251M444.81 131.3V251M461.89 131.3V251M470.56 131.3V251M476.71 131.3V251M481.48 131.3V251M485.38 131.3V251M488.67 131.3V251M491.53 131.3V251M494.05 131.3V251" stroke="#848484" stroke-width="0.6" fill="none"/>
<path d="M348.6 191.15H496.3" stroke="#5a5a5a" stroke-width="0.75" fill="none"/>
<path d="M397.83 131.3V251M447.07 131.3V251" stroke="#5a5a5a" stroke-width="0.75" fill="none"/>
<path d="M348.6 163.1 L349.81 163.05 L351.02 163.01 L352.23 162.96 L353.44 162.92 L354.65 162.87 L355.87 162.83 L357.08 162.79 L358.29 162.75 L359.5 162.71 L360.71 162.68 L361.92 162.65 L363.13 162.62 L364.34 162.59 L365.55 162.57 L366.77 162.55 L367.98 162.53 L369.19 162.51 L370.4 162.5 L371.61 162.5 L372.83 162.5 L374.04 162.5 L375.25 162.52 L376.46 162.55 L377.67 162.6 L378.88 162.67 L380.09 162.75 L381.29 162.86 L382.5 162.97 L383.7 163.11 L384.91 163.26 L386.11 163.42 L387.32 163.59 L388.52 163.77 L389.71 163.98 L390.9 164.22 L392.09 164.48 L393.26 164.78 L394.42 165.11 L395.57 165.49 L396.71 165.92 L397.83 166.38 L398.94 166.88 L400.03 167.42 L401.11 167.99 L402.16 168.59 L403.2 169.22 L404.23 169.88 L405.23 170.56 L406.22 171.26 L407.2 171.98 L408.16 172.71 L409.11 173.47 L410.05 174.23 L410.99 175 L411.91 175.79 L412.84 176.57 L413.76 177.36 L414.67 178.16 L415.59 178.96 L416.5 179.76 L417.4 180.56 L418.31 181.37 L419.21 182.18 L420.11 182.99 L421 183.81 L421.89 184.63 L422.78 185.45 L423.67 186.28 L424.55 187.11 L425.42 187.95 L426.29 188.79 L427.16 189.63 L428.03 190.48 L428.89 191.33 L429.75 192.19 L430.6 193.04 L431.46 193.9 L432.31 194.77 L433.16 195.63 L434.01 196.49 L434.86 197.36 L435.7 198.23 L436.55 199.09 L437.4 199.96 L438.25 200.83 L439.09 201.69 L439.94 202.56 L440.79 203.42 L441.65 204.28 L442.5 205.15 L443.35 206.01 L444.2 206.87 L445.04 207.74 L445.89 208.61 L446.73 209.48 L447.58 210.35 L448.41 211.23 L449.25 212.1 L450.08 212.99 L450.9 213.87 L451.72 214.76 L452.54 215.66 L453.34 216.56 L454.15 217.47 L454.95 218.38 L455.74 219.29 L456.53 220.21 L457.32 221.13 L458.1 222.06 L458.89 222.98 L459.67 223.91 L460.44 224.84 L461.22 225.77 L462 226.7" fill="none" stroke="#000" stroke-width="1.3" stroke-linejoin="round" stroke-linecap="butt"/>
<path d="M348.6 175.1 L349.8 174.93 L351.01 174.77 L352.21 174.61 L353.42 174.44 L354.62 174.28 L355.83 174.12 L357.03 173.97 L358.24 173.82 L359.45 173.67 L360.65 173.52 L361.86 173.38 L363.07 173.25 L364.28 173.11 L365.49 172.98 L366.69 172.86 L367.9 172.73 L369.11 172.6 L370.32 172.48 L371.53 172.36 L372.74 172.23 L373.95 172.11 L375.16 171.98 L376.37 171.86 L377.58 171.74 L378.79 171.62 L380 171.5 L381.21 171.38 L382.42 171.27 L383.63 171.17 L384.84 171.07 L386.06 170.99 L387.27 170.93 L388.48 170.89 L389.7 170.87 L390.91 170.87 L392.13 170.89 L393.35 170.94 L394.56 171 L395.78 171.08 L396.99 171.18 L398.2 171.31 L399.41 171.46 L400.61 171.64 L401.81 171.85 L403 172.11 L404.18 172.4 L405.35 172.74 L406.51 173.12 L407.65 173.55 L408.78 174.01 L409.89 174.51 L410.99 175.05 L412.07 175.62 L413.13 176.22 L414.17 176.85 L415.19 177.51 L416.19 178.19 L417.18 178.9 L418.15 179.63 L419.12 180.37 L420.07 181.13 L421.01 181.91 L421.94 182.69 L422.87 183.48 L423.79 184.28 L424.71 185.08 L425.63 185.89 L426.55 186.69 L427.46 187.49 L428.38 188.29 L429.31 189.08 L430.23 189.88 L431.15 190.67 L432.07 191.46 L432.99 192.25 L433.91 193.04 L434.83 193.84 L435.75 194.63 L436.68 195.42 L437.6 196.21 L438.51 197.01 L439.43 197.8 L440.35 198.6 L441.27 199.4 L442.18 200.2 L443.09 201.01 L444 201.81 L444.91 202.63 L445.81 203.44 L446.71 204.26 L447.6 205.09 L448.49 205.92 L449.37 206.75 L450.25 207.59 L451.12 208.44 L451.99 209.29 L452.85 210.15 L453.7 211.02 L454.55 211.89 L455.39 212.76 L456.23 213.65 L457.06 214.53 L457.89 215.42 L458.71 216.31 L459.54 217.21 L460.36 218.1 L461.18 219 L462 219.9" fill="none" stroke="#000" stroke-width="1.3" stroke-linejoin="round" stroke-linecap="butt"/>
<path d="M348.6 185.6 L349.79 185.34 L350.97 185.07 L352.16 184.81 L353.34 184.55 L354.53 184.3 L355.72 184.05 L356.91 183.8 L358.1 183.57 L359.29 183.33 L360.49 183.11 L361.68 182.89 L362.88 182.69 L364.07 182.48 L365.27 182.29 L366.47 182.1 L367.67 181.91 L368.87 181.73 L370.07 181.55 L371.28 181.37 L372.48 181.2 L373.68 181.03 L374.88 180.86 L376.09 180.69 L377.29 180.53 L378.49 180.38 L379.7 180.24 L380.91 180.1 L382.11 179.97 L383.32 179.84 L384.53 179.72 L385.74 179.61 L386.95 179.5 L388.16 179.39 L389.37 179.29 L390.58 179.19 L391.79 179.1 L393 179 L394.21 178.92 L395.42 178.84 L396.63 178.76 L397.85 178.69 L399.06 178.64 L400.28 178.59 L401.49 178.55 L402.7 178.52 L403.92 178.5 L405.13 178.49 L406.34 178.51 L407.55 178.54 L408.77 178.6 L409.98 178.7 L411.2 178.83 L412.41 179.03 L413.59 179.3 L414.73 179.69 L415.83 180.19 L416.9 180.79 L417.94 181.43 L418.96 182.1 L419.97 182.77 L420.97 183.46 L421.96 184.16 L422.95 184.87 L423.92 185.59 L424.9 186.31 L425.86 187.04 L426.83 187.78 L427.8 188.52 L428.76 189.25 L429.73 189.99 L430.69 190.73 L431.67 191.46 L432.64 192.19 L433.61 192.92 L434.58 193.64 L435.55 194.38 L436.52 195.11 L437.48 195.85 L438.44 196.6 L439.39 197.35 L440.33 198.11 L441.27 198.88 L442.21 199.65 L443.13 200.44 L444.06 201.22 L444.98 202.02 L445.89 202.82 L446.8 203.62 L447.71 204.43 L448.61 205.24 L449.52 206.06 L450.42 206.87 L451.31 207.69 L452.21 208.52 L453.1 209.34 L453.99 210.16 L454.89 210.99 L455.78 211.81 L456.67 212.64 L457.56 213.46 L458.45 214.29 L459.34 215.12 L460.22 215.94 L461.11 216.77 L462 217.6" fill="none" stroke="#000" stroke-width="1.3" stroke-linejoin="round" stroke-linecap="butt"/>
<rect x="355.3" y="152.6" width="25.8" height="6.3" fill="#fff"/>
<text x="356.1" y="157.7" font-size="5.0">Ta = 125<tspan dy="-2" font-size="55%">o</tspan><tspan dy="2">C</tspan></text>
<rect x="401.7" y="153.5" width="22.5" height="6.3" fill="#fff"/>
<text x="402.5" y="158.6" font-size="5.0">Ta = 25<tspan dy="-2" font-size="55%">o</tspan><tspan dy="2">C</tspan></text>
<rect x="371.7" y="183.6" width="26.4" height="6.3" fill="#fff"/>
<text x="372.5" y="188.7" font-size="5.0">Ta = - 25<tspan dy="-2" font-size="55%">o</tspan><tspan dy="2">C</tspan></text>
<path d="M399.4 158.3L384.9 170.9" stroke="#444" stroke-width="0.8" fill="none"/>
<rect x="461.8" y="133.2" width="31.8" height="13.7" fill="#fff"/>
<text x="467.3" y="142.1" font-size="5.5">V<tspan dy="1.3" font-size="60%">CE</tspan><tspan dy="-1.3"> = 5V</tspan></text>
<rect x="348.6" y="131.3" width="147.7" height="119.7" fill="none" stroke="#000" stroke-width="1.1"/>
<path d="M363.42 251v-1.5M363.42 131.3v1.5M372.09 251v-1.5M372.09 131.3v1.5M378.24 251v-1.5M378.24 131.3v1.5M383.01 251v-1.5M383.01 131.3v1.5M386.91 251v-1.5M386.91 131.3v1.5M390.21 251v-1.5M390.21 131.3v1.5M393.06 251v-1.5M393.06 131.3v1.5M395.58 251v-1.5M395.58 131.3v1.5M412.65 251v-1.5M412.65 131.3v1.5M421.32 251v-1.5M421.32 131.3v1.5M427.47 251v-1.5M427.47 131.3v1.5M432.25 251v-1.5M432.25 131.3v1.5M436.14 251v-1.5M436.14 131.3v1.5M439.44 251v-1.5M439.44 131.3v1.5M442.3 251v-1.5M442.3 131.3v1.5M444.81 251v-1.5M444.81 131.3v1.5M461.89 251v-1.5M461.89 131.3v1.5M470.56 251v-1.5M470.56 131.3v1.5M476.71 251v-1.5M476.71 131.3v1.5M481.48 251v-1.5M481.48 131.3v1.5M485.38 251v-1.5M485.38 131.3v1.5M488.67 251v-1.5M488.67 131.3v1.5M491.53 251v-1.5M491.53 131.3v1.5M494.05 251v-1.5M494.05 131.3v1.5M397.83 251v-1.5M397.83 131.3v1.5M447.07 251v-1.5M447.07 131.3v1.5M348.6 232.98h1.5M496.3 232.98h-1.5M348.6 222.44h1.5M496.3 222.44h-1.5M348.6 214.97h1.5M496.3 214.97h-1.5M348.6 209.17h1.5M496.3 209.17h-1.5M348.6 204.43h1.5M496.3 204.43h-1.5M348.6 200.42h1.5M496.3 200.42h-1.5M348.6 196.95h1.5M496.3 196.95h-1.5M348.6 193.89h1.5M496.3 193.89h-1.5M348.6 173.13h1.5M496.3 173.13h-1.5M348.6 162.59h1.5M496.3 162.59h-1.5M348.6 155.12h1.5M496.3 155.12h-1.5M348.6 149.32h1.5M496.3 149.32h-1.5M348.6 144.58h1.5M496.3 144.58h-1.5M348.6 140.57h1.5M496.3 140.57h-1.5M348.6 137.1h1.5M496.3 137.1h-1.5M348.6 134.04h1.5M496.3 134.04h-1.5M348.6 191.15h1.5M496.3 191.15h-1.5" stroke="#000" stroke-width="0.9" fill="none"/>
<text x="348.6" y="257" font-size="3.9" font-weight="bold" text-anchor="middle" stroke="#000" stroke-width="0.2">0.1</text>
<text x="397.83" y="257" font-size="3.9" font-weight="bold" text-anchor="middle" stroke="#000" stroke-width="0.2">1</text>
<text x="447.07" y="257" font-size="3.9" font-weight="bold" text-anchor="middle" stroke="#000" stroke-width="0.2">10</text>
<text x="496.3" y="257" font-size="3.9" font-weight="bold" text-anchor="middle" stroke="#000" stroke-width="0.2">100</text>
<text x="345.6" y="252.4" font-size="3.9" font-weight="bold" text-anchor="end" stroke="#000" stroke-width="0.2">1</text>
<text x="345.6" y="192.55" font-size="3.9" font-weight="bold" text-anchor="end" stroke="#000" stroke-width="0.2">10</text>
<text x="345.6" y="132.7" font-size="3.9" font-weight="bold" text-anchor="end" stroke="#000" stroke-width="0.2">100</text>
<text x="381" y="271.7" font-size="6">I<tspan dy="1.3" font-size="60%">C</tspan><tspan dy="-1.3">[A], COLLECTOR CURRENT</tspan></text>
<text x="0" y="0" transform="translate(326.4 227.5) rotate(-90)" font-size="6">h<tspan dy="1.3" font-size="60%">FE</tspan><tspan dy="-1.3">, DC CURRENT GAIN</tspan></text>
<text x="365.3" y="293.9" font-size="8" font-weight="bold">Figure 2. DC Current Gain</text>
<path d="M134 437.98H281.4M134 430.95H281.4M134 425.96H281.4M134 422.09H281.4M134 418.93H281.4M134 416.25H281.4M134 413.94H281.4M134 411.89H281.4M134 398.05H281.4M134 391.01H281.4M134 386.02H281.4M134 382.15H281.4M134 378.99H281.4M134 376.32H281.4M134 374H281.4M134 371.96H281.4M134 358.11H281.4M134 351.08H281.4M134 346.09H281.4M134 342.22H281.4M134 339.06H281.4M134 336.39H281.4M134 334.07H281.4M134 332.03H281.4" stroke="#848484" stroke-width="0.6" fill="none"/>
<path d="M148.79 330.2V450M157.44 330.2V450M163.58 330.2V450M168.34 330.2V450M172.23 330.2V450M175.52 330.2V450M178.37 330.2V450M180.89 330.2V450M197.92 330.2V450M206.58 330.2V450M212.71 330.2V450M217.48 330.2V450M221.37 330.2V450M224.66 330.2V450M227.51 330.2V450M230.02 330.2V450M247.06 330.2V450M255.71 330.2V450M261.85 330.2V450M266.61 330.2V450M270.5 330.2V450M273.79 330.2V450M276.64 330.2V450M279.15 330.2V450" stroke="#848484" stroke-width="0.6" fill="none"/>
<path d="M134 410.07H281.4M134 370.13H281.4" stroke="#5a5a5a" stroke-width="0.75" fill="none"/>
<path d="M183.13 330.2V450M232.27 330.2V450" stroke="#5a5a5a" stroke-width="0.75" fill="none"/>
<path d="M134.1 411.2 L135.29 411.47 L136.47 411.74 L137.66 412 L138.85 412.24 L140.04 412.47 L141.24 412.68 L142.44 412.86 L143.64 413.02 L144.85 413.15 L146.06 413.26 L147.27 413.35 L148.48 413.42 L149.7 413.49 L150.91 413.54 L152.13 413.59 L153.35 413.62 L154.56 413.65 L155.77 413.66 L156.99 413.66 L158.2 413.65 L159.42 413.62 L160.63 413.58 L161.84 413.52 L163.06 413.44 L164.27 413.36 L165.48 413.26 L166.69 413.15 L167.9 413.03 L169.11 412.9 L170.32 412.76 L171.52 412.62 L172.73 412.46 L173.93 412.3 L175.14 412.12 L176.34 411.93 L177.54 411.73 L178.73 411.51 L179.92 411.28 L181.11 411.03 L182.3 410.77 L183.48 410.48 L184.66 410.18 L185.83 409.85 L186.99 409.51 L188.15 409.15 L189.31 408.77 L190.46 408.37 L191.6 407.95 L192.73 407.52 L193.86 407.06 L194.98 406.6 L196.1 406.12 L197.21 405.63 L198.32 405.13 L199.43 404.63 L200.53 404.13 L201.64 403.62 L202.74 403.11 L203.84 402.59 L204.94 402.07 L206.03 401.55 L207.13 401.02 L208.22 400.49 L209.31 399.95 L210.39 399.41 L211.48 398.86 L212.56 398.31 L213.64 397.75 L214.71 397.18 L215.77 396.6 L216.84 396.02 L217.89 395.42 L218.94 394.8 L219.98 394.17 L221.01 393.52 L222.03 392.86 L223.04 392.18 L224.04 391.47 L225.03 390.74 L226 389.99 L226.94 389.21 L227.86 388.41 L228.75 387.57 L229.6 386.69 L230.4 385.78 L231.15 384.84 L231.85 383.85 L232.49 382.82 L233.09 381.76 L233.64 380.68 L234.14 379.57 L234.61 378.43 L235.05 377.29 L235.45 376.13 L235.84 374.97 L236.2 373.81 L236.54 372.64 L236.87 371.47 L237.18 370.3 L237.48 369.12 L237.77 367.94 L238.06 366.76 L238.34 365.59 L238.63 364.41 L238.92 363.23 L239.21 362.05 L239.5 360.87 L239.8 359.7 L240.11 358.52 L240.42 357.35 L240.74 356.18 L241.06 355 L241.39 353.83 L241.73 352.66 L242.07 351.5 L242.42 350.33 L242.79 349.17 L243.16 348.01 L243.56 346.86 L243.97 345.72 L244.41 344.59 L244.88 343.47 L245.38 342.37 L245.91 341.27 L246.45 340.18 L247 339.1" fill="none" stroke="#000" stroke-width="1.15" stroke-linejoin="round" stroke-linecap="butt"/>
<path d="M134.1 412.6 L135.3 412.79 L136.5 412.97 L137.69 413.15 L138.89 413.32 L140.1 413.48 L141.3 413.62 L142.5 413.75 L143.71 413.86 L144.92 413.95 L146.13 414.03 L147.34 414.09 L148.55 414.14 L149.76 414.19 L150.97 414.23 L152.18 414.27 L153.4 414.3 L154.61 414.32 L155.82 414.33 L157.03 414.34 L158.24 414.33 L159.45 414.31 L160.67 414.28 L161.88 414.24 L163.09 414.19 L164.3 414.13 L165.51 414.05 L166.72 413.97 L167.92 413.88 L169.13 413.78 L170.34 413.67 L171.55 413.55 L172.75 413.43 L173.96 413.3 L175.16 413.15 L176.36 413 L177.56 412.85 L178.77 412.68 L179.96 412.5 L181.16 412.31 L182.36 412.11 L183.55 411.9 L184.74 411.68 L185.93 411.45 L187.12 411.2 L188.3 410.94 L189.48 410.66 L190.66 410.36 L191.83 410.05 L192.99 409.71 L194.15 409.36 L195.31 408.99 L196.46 408.6 L197.6 408.2 L198.74 407.79 L199.87 407.36 L201 406.92 L202.13 406.47 L203.25 406.02 L204.37 405.56 L205.49 405.1 L206.61 404.64 L207.74 404.18 L208.86 403.73 L209.99 403.29 L211.12 402.85 L212.26 402.43 L213.4 402.02 L214.54 401.62 L215.68 401.21 L216.82 400.78 L217.95 400.34 L219.06 399.87 L220.17 399.37 L221.26 398.83 L222.32 398.25 L223.37 397.63 L224.39 396.97 L225.38 396.27 L226.34 395.53 L227.26 394.75 L228.16 393.93 L229.02 393.08 L229.87 392.21 L230.69 391.31 L231.49 390.4 L232.27 389.47 L233.04 388.53 L233.78 387.57 L234.5 386.59 L235.18 385.59 L235.83 384.57 L236.45 383.53 L237.03 382.47 L237.58 381.39 L238.11 380.29 L238.62 379.19 L239.11 378.08 L239.58 376.96 L240.03 375.83 L240.48 374.7 L240.91 373.57 L241.34 372.43 L241.75 371.29 L242.15 370.15 L242.54 369 L242.91 367.85 L243.29 366.7 L243.65 365.54 L244 364.39 L244.35 363.23 L244.69 362.06 L245.03 360.9 L245.36 359.73 L245.69 358.57 L246.02 357.4 L246.35 356.23 L246.67 355.07 L247 353.9" fill="none" stroke="#000" stroke-width="1.15" stroke-linejoin="round" stroke-linecap="butt"/>
<path d="M134.1 414 L135.31 414.1 L136.52 414.2 L137.73 414.3 L138.93 414.39 L140.14 414.48 L141.35 414.56 L142.56 414.63 L143.77 414.69 L144.98 414.75 L146.2 414.79 L147.41 414.83 L148.62 414.87 L149.83 414.9 L151.04 414.92 L152.26 414.94 L153.47 414.96 L154.68 414.98 L155.89 414.99 L157.11 414.99 L158.32 415 L159.53 415 L160.74 415 L161.96 414.99 L163.17 414.98 L164.38 414.97 L165.59 414.95 L166.8 414.92 L168.02 414.88 L169.23 414.83 L170.44 414.78 L171.65 414.71 L172.86 414.64 L174.07 414.55 L175.28 414.45 L176.49 414.35 L177.69 414.23 L178.9 414.11 L180.11 413.97 L181.31 413.82 L182.51 413.67 L183.71 413.5 L184.91 413.32 L186.11 413.14 L187.31 412.94 L188.5 412.72 L189.69 412.49 L190.88 412.25 L192.06 411.99 L193.24 411.71 L194.42 411.41 L195.59 411.09 L196.76 410.76 L197.92 410.41 L199.07 410.04 L200.22 409.65 L201.36 409.25 L202.5 408.84 L203.63 408.42 L204.76 407.99 L205.89 407.55 L207.03 407.12 L208.16 406.7 L209.3 406.27 L210.45 405.86 L211.6 405.47 L212.76 405.09 L213.93 404.72 L215.1 404.35 L216.27 403.99 L217.43 403.62 L218.59 403.23 L219.73 402.83 L220.87 402.4 L221.98 401.93 L223.08 401.43 L224.15 400.88 L225.19 400.29 L226.2 399.63 L227.19 398.93 L228.15 398.19 L229.08 397.41 L230 396.6 L230.9 395.78 L231.78 394.93 L232.65 394.08 L233.49 393.21 L234.31 392.31 L235.1 391.4 L235.85 390.45 L236.57 389.47 L237.25 388.47 L237.9 387.44 L238.51 386.39 L239.09 385.32 L239.63 384.23 L240.15 383.13 L240.64 382.02 L241.11 380.9 L241.55 379.78 L241.98 378.64 L242.4 377.5 L242.81 376.36 L243.21 375.22 L243.61 374.07 L244 372.92 L244.39 371.77 L244.77 370.62 L245.15 369.47 L245.52 368.32 L245.9 367.17 L246.27 366.01 L246.63 364.86 L247 363.7" fill="none" stroke="#000" stroke-width="1.15" stroke-linejoin="round" stroke-linecap="butt"/>
<rect x="135.5" y="332" width="30.5" height="13.5" fill="#fff"/>
<text x="140.9" y="341.3" font-size="5.6">I<tspan dy="1.3" font-size="60%">C</tspan><tspan dy="-1.3"> = 3 I</tspan><tspan dy="1.3" font-size="60%">B</tspan></text>
<rect x="247.8" y="335.7" width="25.5" height="6.6" fill="#fff"/>
<text x="248.3" y="340.9" font-size="5.0">Ta = 125<tspan dy="-2" font-size="55%">o</tspan><tspan dy="2">C</tspan></text>
<rect x="247.8" y="350.5" width="23" height="6.6" fill="#fff"/>
<text x="248.3" y="355.7" font-size="5.0">Ta = 25<tspan dy="-2" font-size="55%">o</tspan><tspan dy="2">C</tspan></text>
<rect x="247.8" y="359.2" width="26.5" height="6.6" fill="#fff"/>
<text x="248.3" y="364.4" font-size="5.0">Ta = - 25<tspan dy="-2" font-size="55%">o</tspan><tspan dy="2">C</tspan></text>
<rect x="134" y="330.2" width="147.4" height="119.8" fill="none" stroke="#000" stroke-width="1.1"/>
<path d="M148.79 450v-1.5M148.79 330.2v1.5M157.44 450v-1.5M157.44 330.2v1.5M163.58 450v-1.5M163.58 330.2v1.5M168.34 450v-1.5M168.34 330.2v1.5M172.23 450v-1.5M172.23 330.2v1.5M175.52 450v-1.5M175.52 330.2v1.5M178.37 450v-1.5M178.37 330.2v1.5M180.89 450v-1.5M180.89 330.2v1.5M197.92 450v-1.5M197.92 330.2v1.5M206.58 450v-1.5M206.58 330.2v1.5M212.71 450v-1.5M212.71 330.2v1.5M217.48 450v-1.5M217.48 330.2v1.5M221.37 450v-1.5M221.37 330.2v1.5M224.66 450v-1.5M224.66 330.2v1.5M227.51 450v-1.5M227.51 330.2v1.5M230.02 450v-1.5M230.02 330.2v1.5M247.06 450v-1.5M247.06 330.2v1.5M255.71 450v-1.5M255.71 330.2v1.5M261.85 450v-1.5M261.85 330.2v1.5M266.61 450v-1.5M266.61 330.2v1.5M270.5 450v-1.5M270.5 330.2v1.5M273.79 450v-1.5M273.79 330.2v1.5M276.64 450v-1.5M276.64 330.2v1.5M279.15 450v-1.5M279.15 330.2v1.5M183.13 450v-1.5M183.13 330.2v1.5M232.27 450v-1.5M232.27 330.2v1.5M134 437.98h1.5M281.4 437.98h-1.5M134 430.95h1.5M281.4 430.95h-1.5M134 425.96h1.5M281.4 425.96h-1.5M134 422.09h1.5M281.4 422.09h-1.5M134 418.93h1.5M281.4 418.93h-1.5M134 416.25h1.5M281.4 416.25h-1.5M134 413.94h1.5M281.4 413.94h-1.5M134 411.89h1.5M281.4 411.89h-1.5M134 398.05h1.5M281.4 398.05h-1.5M134 391.01h1.5M281.4 391.01h-1.5M134 386.02h1.5M281.4 386.02h-1.5M134 382.15h1.5M281.4 382.15h-1.5M134 378.99h1.5M281.4 378.99h-1.5M134 376.32h1.5M281.4 376.32h-1.5M134 374h1.5M281.4 374h-1.5M134 371.96h1.5M281.4 371.96h-1.5M134 358.11h1.5M281.4 358.11h-1.5M134 351.08h1.5M281.4 351.08h-1.5M134 346.09h1.5M281.4 346.09h-1.5M134 342.22h1.5M281.4 342.22h-1.5M134 339.06h1.5M281.4 339.06h-1.5M134 336.39h1.5M281.4 336.39h-1.5M134 334.07h1.5M281.4 334.07h-1.5M134 332.03h1.5M281.4 332.03h-1.5M134 410.07h1.5M281.4 410.07h-1.5M134 370.13h1.5M281.4 370.13h-1.5" stroke="#000" stroke-width="0.9" fill="none"/>
<text x="134" y="456" font-size="3.9" font-weight="bold" text-anchor="middle" stroke="#000" stroke-width="0.2">0.1</text>
<text x="183.13" y="456" font-size="3.9" font-weight="bold" text-anchor="middle" stroke="#000" stroke-width="0.2">1</text>
<text x="232.27" y="456" font-size="3.9" font-weight="bold" text-anchor="middle" stroke="#000" stroke-width="0.2">10</text>
<text x="281.4" y="456" font-size="3.9" font-weight="bold" text-anchor="middle" stroke="#000" stroke-width="0.2">100</text>
<text x="131" y="451.4" font-size="3.9" font-weight="bold" text-anchor="end" stroke="#000" stroke-width="0.2">0.01</text>
<text x="131" y="411.47" font-size="3.9" font-weight="bold" text-anchor="end" stroke="#000" stroke-width="0.2">0.1</text>
<text x="131" y="371.53" font-size="3.9" font-weight="bold" text-anchor="end" stroke="#000" stroke-width="0.2">1</text>
<text x="131" y="331.6" font-size="3.9" font-weight="bold" text-anchor="end" stroke="#000" stroke-width="0.2">10</text>
<text x="166.5" y="471.9" font-size="6">I<tspan dy="1.3" font-size="60%">C</tspan><tspan dy="-1.3">[A], COLLECTOR CURRENT</tspan></text>
<text x="0" y="0" transform="translate(110.1 443) rotate(-90)" font-size="6">V<tspan dy="1.3" font-size="60%">CE</tspan><tspan dy="-1.3">(sat)[V], SATURATION VOLTAGE</tspan></text>
<text x="111.8" y="493.5" font-size="8" font-weight="bold">Figure 3. Collector-Emitter Saturation Voltage</text>
<path d="M349.2 437.39H496.9M349.2 430.36H496.9M349.2 425.38H496.9M349.2 421.51H496.9M349.2 418.35H496.9M349.2 415.68H496.9M349.2 413.37H496.9M349.2 411.33H496.9M349.2 397.49H496.9M349.2 390.46H496.9M349.2 385.48H496.9M349.2 381.61H496.9M349.2 378.45H496.9M349.2 375.78H496.9M349.2 373.47H496.9M349.2 371.43H496.9M349.2 357.59H496.9M349.2 350.56H496.9M349.2 345.58H496.9M349.2 341.71H496.9M349.2 338.55H496.9M349.2 335.88H496.9M349.2 333.57H496.9M349.2 331.53H496.9" stroke="#848484" stroke-width="0.6" fill="none"/>
<path d="M364.02 329.7V449.4M372.69 329.7V449.4M378.84 329.7V449.4M383.61 329.7V449.4M387.51 329.7V449.4M390.81 329.7V449.4M393.66 329.7V449.4M396.18 329.7V449.4M413.25 329.7V449.4M421.92 329.7V449.4M428.07 329.7V449.4M432.85 329.7V449.4M436.74 329.7V449.4M440.04 329.7V449.4M442.9 329.7V449.4M445.41 329.7V449.4M462.49 329.7V449.4M471.16 329.7V449.4M477.31 329.7V449.4M482.08 329.7V449.4M485.98 329.7V449.4M489.27 329.7V449.4M492.13 329.7V449.4M494.65 329.7V449.4" stroke="#848484" stroke-width="0.6" fill="none"/>
<path d="M349.2 409.5H496.9M349.2 369.6H496.9" stroke="#5a5a5a" stroke-width="0.75" fill="none"/>
<path d="M398.43 329.7V449.4M447.67 329.7V449.4" stroke="#5a5a5a" stroke-width="0.75" fill="none"/>
<path d="M349.2 407.4 L350.42 407.41 L351.64 407.42 L352.85 407.44 L354.07 407.44 L355.29 407.45 L356.51 407.46 L357.73 407.46 L358.94 407.46 L360.16 407.46 L361.38 407.45 L362.6 407.44 L363.81 407.42 L365.03 407.4 L366.25 407.37 L367.47 407.34 L368.68 407.3 L369.9 407.26 L371.12 407.21 L372.34 407.15 L373.55 407.09 L374.77 407.03 L375.98 406.96 L377.2 406.89 L378.42 406.81 L379.63 406.73 L380.85 406.64 L382.06 406.55 L383.27 406.45 L384.49 406.35 L385.7 406.24 L386.91 406.13 L388.12 406 L389.34 405.87 L390.55 405.74 L391.76 405.59 L392.97 405.43 L394.17 405.25 L395.37 405.06 L396.57 404.84 L397.76 404.6 L398.95 404.33 L400.13 404.03 L401.31 403.71 L402.48 403.37 L403.64 403.01 L404.8 402.63 L405.96 402.25 L407.11 401.86 L408.26 401.45 L409.41 401.04 L410.55 400.62 L411.69 400.19 L412.83 399.74 L413.95 399.28 L415.07 398.8 L416.19 398.3 L417.29 397.79 L418.39 397.26 L419.48 396.7 L420.55 396.13 L421.61 395.52 L422.65 394.89 L423.67 394.22 L424.67 393.52 L425.64 392.79 L426.58 392.02 L427.5 391.22 L428.4 390.39 L429.27 389.53 L430.12 388.65 L430.95 387.75 L431.74 386.81 L432.49 385.86 L433.21 384.87 L433.87 383.85 L434.48 382.81 L435.03 381.73 L435.55 380.63 L436.02 379.51 L436.47 378.38 L436.89 377.23 L437.28 376.07 L437.67 374.9 L438.04 373.73 L438.42 372.56 L438.79 371.39 L439.17 370.23 L439.56 369.07 L439.95 367.91 L440.33 366.76 L440.72 365.6 L441.11 364.45 L441.49 363.3 L441.87 362.14 L442.24 360.99 L442.61 359.83 L442.98 358.67 L443.33 357.51 L443.68 356.34 L444.03 355.17 L444.37 354.01 L444.71 352.84 L445.06 351.67 L445.4 350.5 L445.75 349.33 L446.11 348.17 L446.48 347.01 L446.86 345.85 L447.25 344.69 L447.66 343.55 L448.08 342.4 L448.51 341.27 L448.96 340.14 L449.42 339.01 L449.88 337.88 L450.36 336.76 L450.83 335.64 L451.32 334.52 L451.8 333.4" fill="none" stroke="#000" stroke-width="1.15" stroke-linejoin="round" stroke-linecap="butt"/>
<path d="M349.2 408.2 L350.42 408.21 L351.63 408.22 L352.85 408.22 L354.07 408.23 L355.28 408.23 L356.5 408.24 L357.71 408.24 L358.93 408.24 L360.15 408.24 L361.36 408.23 L362.58 408.22 L363.8 408.21 L365.01 408.2 L366.23 408.18 L367.45 408.16 L368.66 408.13 L369.88 408.1 L371.1 408.07 L372.31 408.02 L373.53 407.98 L374.74 407.92 L375.96 407.86 L377.17 407.79 L378.39 407.71 L379.6 407.63 L380.81 407.54 L382.03 407.44 L383.24 407.33 L384.45 407.21 L385.66 407.09 L386.87 406.96 L388.08 406.82 L389.29 406.68 L390.49 406.54 L391.7 406.39 L392.91 406.23 L394.12 406.07 L395.32 405.89 L396.52 405.7 L397.72 405.49 L398.91 405.26 L400.1 405.02 L401.29 404.76 L402.47 404.48 L403.66 404.19 L404.84 403.9 L406.02 403.6 L407.2 403.29 L408.38 402.98 L409.56 402.66 L410.73 402.33 L411.9 401.98 L413.06 401.62 L414.22 401.23 L415.36 400.82 L416.5 400.39 L417.62 399.92 L418.73 399.43 L419.82 398.9 L420.91 398.35 L421.98 397.78 L423.05 397.2 L424.12 396.62 L425.19 396.03 L426.26 395.45 L427.32 394.85 L428.37 394.25 L429.41 393.61 L430.43 392.95 L431.43 392.24 L432.4 391.49 L433.33 390.7 L434.21 389.86 L435.03 388.97 L435.79 388.03 L436.48 387.04 L437.12 386.01 L437.72 384.96 L438.28 383.87 L438.8 382.76 L439.3 381.63 L439.78 380.5 L440.25 379.35 L440.71 378.21 L441.18 377.07 L441.65 375.94 L442.12 374.81 L442.59 373.69 L443.06 372.57 L443.52 371.45 L443.98 370.33 L444.44 369.2 L444.88 368.08 L445.32 366.95 L445.74 365.81 L446.16 364.67 L446.56 363.53 L446.96 362.38 L447.35 361.22 L447.72 360.07 L448.1 358.91 L448.46 357.74 L448.82 356.58 L449.17 355.41 L449.51 354.24 L449.85 353.07 L450.19 351.9 L450.52 350.73 L450.85 349.56 L451.18 348.39 L451.52 347.22 L451.86 346.05 L452.2 344.88 L452.56 343.72 L452.92 342.56 L453.3 341.41 L453.69 340.25 L454.09 339.11 L454.5 337.96 L454.92 336.82 L455.34 335.68 L455.77 334.54 L456.2 333.4" fill="none" stroke="#000" stroke-width="1.15" stroke-linejoin="round" stroke-linecap="butt"/>
<path d="M349.2 409 L350.41 409.01 L351.62 409.01 L352.83 409.02 L354.04 409.02 L355.25 409.03 L356.47 409.03 L357.68 409.03 L358.89 409.03 L360.1 409.03 L361.31 409.03 L362.52 409.02 L363.73 409.01 L364.94 409 L366.15 408.99 L367.36 408.97 L368.58 408.95 L369.79 408.93 L371 408.9 L372.21 408.86 L373.42 408.82 L374.63 408.78 L375.84 408.73 L377.05 408.67 L378.26 408.61 L379.47 408.53 L380.67 408.45 L381.88 408.37 L383.09 408.27 L384.3 408.17 L385.5 408.06 L386.71 407.95 L387.91 407.82 L389.12 407.7 L390.32 407.56 L391.52 407.43 L392.73 407.28 L393.93 407.13 L395.13 406.97 L396.33 406.79 L397.52 406.61 L398.72 406.41 L399.91 406.2 L401.1 405.98 L402.29 405.76 L403.48 405.52 L404.66 405.27 L405.85 405.02 L407.03 404.76 L408.22 404.5 L409.4 404.23 L410.58 403.95 L411.76 403.66 L412.93 403.35 L414.1 403.02 L415.26 402.68 L416.41 402.31 L417.56 401.92 L418.69 401.51 L419.82 401.06 L420.94 400.6 L422.05 400.12 L423.16 399.62 L424.26 399.11 L425.35 398.59 L426.44 398.06 L427.52 397.51 L428.59 396.95 L429.65 396.36 L430.7 395.75 L431.73 395.12 L432.75 394.45 L433.75 393.74 L434.7 392.99 L435.61 392.19 L436.45 391.33 L437.23 390.42 L437.94 389.45 L438.6 388.44 L439.21 387.39 L439.78 386.31 L440.32 385.21 L440.82 384.09 L441.31 382.95 L441.77 381.81 L442.23 380.67 L442.69 379.53 L443.13 378.4 L443.57 377.26 L443.99 376.13 L444.41 375 L444.82 373.86 L445.22 372.72 L445.62 371.59 L446 370.44 L446.37 369.3 L446.74 368.15 L447.09 367 L447.43 365.84 L447.77 364.68 L448.1 363.51 L448.43 362.35 L448.75 361.18 L449.07 360.01 L449.38 358.84 L449.7 357.67 L450.02 356.5 L450.33 355.33 L450.65 354.16 L450.98 352.99 L451.3 351.82 L451.64 350.65 L451.97 349.49 L452.32 348.33 L452.66 347.17 L453.02 346.01 L453.38 344.86 L453.75 343.7 L454.12 342.55 L454.5 341.4 L454.89 340.25 L455.28 339.11 L455.68 337.96 L456.08 336.82 L456.48 335.68 L456.89 334.54 L457.3 333.4" fill="none" stroke="#000" stroke-width="1.15" stroke-linejoin="round" stroke-linecap="butt"/>
<rect x="350.7" y="331.6" width="30.7" height="13.8" fill="#fff"/>
<text x="356.4" y="341" font-size="5.6">I<tspan dy="1.3" font-size="60%">C</tspan><tspan dy="-1.3"> = 5 I</tspan><tspan dy="1.3" font-size="60%">B</tspan></text>
<rect x="408.8" y="372.6" width="23" height="6.4" fill="#fff"/>
<text x="409.4" y="377.9" font-size="5.0">Ta = 25<tspan dy="-2" font-size="55%">o</tspan><tspan dy="2">C</tspan></text>
<rect x="394" y="384.9" width="25.8" height="6.4" fill="#fff"/>
<text x="394.6" y="390.2" font-size="5.0">Ta = 125<tspan dy="-2" font-size="55%">o</tspan><tspan dy="2">C</tspan></text>
<rect x="426.3" y="400.5" width="26.3" height="6.4" fill="#fff"/>
<text x="426.9" y="405.8" font-size="5.0">Ta = - 25<tspan dy="-2" font-size="55%">o</tspan><tspan dy="2">C</tspan></text>
<path d="M421.2 380L431.9 389.9" stroke="#444" stroke-width="0.8" fill="none"/>
<rect x="349.2" y="329.7" width="147.7" height="119.7" fill="none" stroke="#000" stroke-width="1.1"/>
<path d="M364.02 449.4v-1.5M364.02 329.7v1.5M372.69 449.4v-1.5M372.69 329.7v1.5M378.84 449.4v-1.5M378.84 329.7v1.5M383.61 449.4v-1.5M383.61 329.7v1.5M387.51 449.4v-1.5M387.51 329.7v1.5M390.81 449.4v-1.5M390.81 329.7v1.5M393.66 449.4v-1.5M393.66 329.7v1.5M396.18 449.4v-1.5M396.18 329.7v1.5M413.25 449.4v-1.5M413.25 329.7v1.5M421.92 449.4v-1.5M421.92 329.7v1.5M428.07 449.4v-1.5M428.07 329.7v1.5M432.85 449.4v-1.5M432.85 329.7v1.5M436.74 449.4v-1.5M436.74 329.7v1.5M440.04 449.4v-1.5M440.04 329.7v1.5M442.9 449.4v-1.5M442.9 329.7v1.5M445.41 449.4v-1.5M445.41 329.7v1.5M462.49 449.4v-1.5M462.49 329.7v1.5M471.16 449.4v-1.5M471.16 329.7v1.5M477.31 449.4v-1.5M477.31 329.7v1.5M482.08 449.4v-1.5M482.08 329.7v1.5M485.98 449.4v-1.5M485.98 329.7v1.5M489.27 449.4v-1.5M489.27 329.7v1.5M492.13 449.4v-1.5M492.13 329.7v1.5M494.65 449.4v-1.5M494.65 329.7v1.5M398.43 449.4v-1.5M398.43 329.7v1.5M447.67 449.4v-1.5M447.67 329.7v1.5M349.2 437.39h1.5M496.9 437.39h-1.5M349.2 430.36h1.5M496.9 430.36h-1.5M349.2 425.38h1.5M496.9 425.38h-1.5M349.2 421.51h1.5M496.9 421.51h-1.5M349.2 418.35h1.5M496.9 418.35h-1.5M349.2 415.68h1.5M496.9 415.68h-1.5M349.2 413.37h1.5M496.9 413.37h-1.5M349.2 411.33h1.5M496.9 411.33h-1.5M349.2 397.49h1.5M496.9 397.49h-1.5M349.2 390.46h1.5M496.9 390.46h-1.5M349.2 385.48h1.5M496.9 385.48h-1.5M349.2 381.61h1.5M496.9 381.61h-1.5M349.2 378.45h1.5M496.9 378.45h-1.5M349.2 375.78h1.5M496.9 375.78h-1.5M349.2 373.47h1.5M496.9 373.47h-1.5M349.2 371.43h1.5M496.9 371.43h-1.5M349.2 357.59h1.5M496.9 357.59h-1.5M349.2 350.56h1.5M496.9 350.56h-1.5M349.2 345.58h1.5M496.9 345.58h-1.5M349.2 341.71h1.5M496.9 341.71h-1.5M349.2 338.55h1.5M496.9 338.55h-1.5M349.2 335.88h1.5M496.9 335.88h-1.5M349.2 333.57h1.5M496.9 333.57h-1.5M349.2 331.53h1.5M496.9 331.53h-1.5M349.2 409.5h1.5M496.9 409.5h-1.5M349.2 369.6h1.5M496.9 369.6h-1.5" stroke="#000" stroke-width="0.9" fill="none"/>
<text x="349.2" y="455.4" font-size="3.9" font-weight="bold" text-anchor="middle" stroke="#000" stroke-width="0.2">0.1</text>
<text x="398.43" y="455.4" font-size="3.9" font-weight="bold" text-anchor="middle" stroke="#000" stroke-width="0.2">1</text>
<text x="447.67" y="455.4" font-size="3.9" font-weight="bold" text-anchor="middle" stroke="#000" stroke-width="0.2">10</text>
<text x="496.9" y="455.4" font-size="3.9" font-weight="bold" text-anchor="middle" stroke="#000" stroke-width="0.2">100</text>
<text x="346.2" y="450.8" font-size="3.9" font-weight="bold" text-anchor="end" stroke="#000" stroke-width="0.2">0.01</text>
<text x="346.2" y="410.9" font-size="3.9" font-weight="bold" text-anchor="end" stroke="#000" stroke-width="0.2">0.1</text>
<text x="346.2" y="371" font-size="3.9" font-weight="bold" text-anchor="end" stroke="#000" stroke-width="0.2">1</text>
<text x="346.2" y="331.1" font-size="3.9" font-weight="bold" text-anchor="end" stroke="#000" stroke-width="0.2">10</text>
<text x="381.5" y="471.3" font-size="6">I<tspan dy="1.3" font-size="60%">C</tspan><tspan dy="-1.3">[A], COLLECTOR CURRENT</tspan></text>
<text x="0" y="0" transform="translate(326.1 440.6) rotate(-90)" font-size="5.9">V<tspan dy="1.3" font-size="60%">CE(sat)</tspan><tspan dy="-1.3">[V], SATURATION VOLTAGE</tspan></text>
<text x="327.5" y="493.5" font-size="8" font-weight="bold">Figure 4. Collector-Emitter Saturation Voltage</text>
<path d="M144.95 529.4V649.3M169.65 529.4V649.3M194.35 529.4V649.3M219.05 529.4V649.3M243.75 529.4V649.3M268.45 529.4V649.3" stroke="#b4b4b4" stroke-width="1.0" fill="none"/>
<path d="M132.6 634.31H280.8M132.6 619.32H280.8M132.6 604.34H280.8M132.6 589.35H280.8M132.6 574.36H280.8M132.6 559.38H280.8M132.6 544.39H280.8" stroke="#666" stroke-width="0.8" fill="none"/>
<path d="M157.3 529.4V649.3M182 529.4V649.3M206.7 529.4V649.3M231.4 529.4V649.3M256.1 529.4V649.3" stroke="#555" stroke-width="0.8" fill="none"/>
<path d="M132.6 648.7 L133.82 648.7 L135.03 648.7 L136.25 648.7 L137.47 648.7 L138.68 648.7 L139.9 648.7 L141.11 648.7 L142.33 648.7 L143.54 648.69 L144.76 648.69 L145.97 648.69 L147.19 648.69 L148.4 648.68 L149.62 648.68 L150.83 648.67 L152.05 648.66 L153.26 648.66 L154.47 648.65 L155.68 648.64 L156.9 648.63 L158.11 648.62 L159.32 648.61 L160.53 648.59 L161.74 648.58 L162.95 648.56 L164.16 648.55 L165.37 648.53 L166.58 648.51 L167.79 648.49 L169 648.47 L170.21 648.46 L171.43 648.44 L172.64 648.42 L173.86 648.4 L175.07 648.38 L176.29 648.36 L177.51 648.34 L178.73 648.32 L179.96 648.3 L181.19 648.28 L182.41 648.25 L183.64 648.21 L184.86 648.14 L186.07 648.03 L187.27 647.87 L188.47 647.66 L189.64 647.39 L190.81 647.04 L191.95 646.61 L193.06 646.11 L194.15 645.54 L195.19 644.9 L196.2 644.2 L197.15 643.44 L198.06 642.62 L198.91 641.76 L199.72 640.85 L200.49 639.9 L201.23 638.93 L201.93 637.94 L202.62 636.93 L203.28 635.91 L203.92 634.88 L204.55 633.84 L205.17 632.79 L205.78 631.74 L206.38 630.69 L206.97 629.63 L207.57 628.57 L208.15 627.51 L208.74 626.45 L209.32 625.38 L209.9 624.31 L210.47 623.24 L211.04 622.17 L211.61 621.09 L212.17 620.02 L212.73 618.94 L213.29 617.86 L213.85 616.78 L214.4 615.7 L214.95 614.62 L215.51 613.54 L216.05 612.45 L216.6 611.37 L217.15 610.28 L217.69 609.2 L218.24 608.11 L218.78 607.03 L219.32 605.94 L219.87 604.86 L220.41 603.77 L220.95 602.68 L221.5 601.6 L222.04 600.51 L222.59 599.43 L223.13 598.34 L223.68 597.26 L224.22 596.17 L224.77 595.09 L225.32 594 L225.87 592.92 L226.41 591.84 L226.96 590.75 L227.51 589.67 L228.05 588.58 L228.59 587.49 L229.13 586.41 L229.67 585.32 L230.21 584.23 L230.75 583.14 L231.28 582.05 L231.81 580.96 L232.34 579.86 L232.86 578.77 L233.39 577.67 L233.91 576.58 L234.43 575.48 L234.95 574.38 L235.46 573.28 L235.98 572.18 L236.49 571.08 L237.01 569.98 L237.52 568.88 L238.04 567.78 L238.55 566.68 L239.07 565.58 L239.58 564.48 L240.1 563.38 L240.62 562.29 L241.14 561.19 L241.66 560.09 L242.18 558.99 L242.71 557.9 L243.23 556.8 L243.75 555.71 L244.28 554.61 L244.8 553.52 L245.33 552.42 L245.85 551.33 L246.38 550.23 L246.9 549.14 L247.43 548.04 L247.96 546.95 L248.48 545.85 L249 544.76 L249.53 543.66 L250.05 542.56 L250.57 541.47 L251.09 540.37 L251.62 539.28 L252.14 538.18 L252.66 537.08 L253.18 535.98 L253.7 534.89 L254.22 533.79 L254.74 532.69 L255.26 531.59 L255.78 530.5 L256.3 529.4" fill="none" stroke="#000" stroke-width="1.25" stroke-linejoin="round" stroke-linecap="butt"/>
<path d="M180 648.7 L181.22 648.69 L182.43 648.68 L183.65 648.67 L184.87 648.66 L186.09 648.65 L187.3 648.64 L188.52 648.63 L189.74 648.62 L190.96 648.61 L192.17 648.61 L193.39 648.6 L194.61 648.6 L195.83 648.6 L197.05 648.6 L198.26 648.6 L199.48 648.6 L200.7 648.6 L201.92 648.61 L203.14 648.6 L204.36 648.58 L205.58 648.54 L206.79 648.48 L208.01 648.39 L209.22 648.26 L210.43 648.08 L211.64 647.86 L212.84 647.57 L214.01 647.22 L215.16 646.79 L216.26 646.27 L217.3 645.64 L218.28 644.91 L219.19 644.09 L220.04 643.2 L220.81 642.24 L221.51 641.24 L222.14 640.19 L222.71 639.12 L223.24 638.02 L223.73 636.9 L224.2 635.77 L224.66 634.64 L225.12 633.51 L225.58 632.38 L226.04 631.25 L226.49 630.12 L226.94 628.99 L227.38 627.86 L227.81 626.72 L228.23 625.58 L228.64 624.43 L229.04 623.28 L229.44 622.13 L229.83 620.98 L230.21 619.82 L230.6 618.67 L230.97 617.51 L231.35 616.35 L231.73 615.19 L232.11 614.03 L232.49 612.88 L232.87 611.72 L233.26 610.56 L233.64 609.41 L234.02 608.25 L234.4 607.09 L234.79 605.94 L235.17 604.78 L235.55 603.63 L235.94 602.47 L236.32 601.32 L236.71 600.16 L237.09 599 L237.47 597.85 L237.86 596.69 L238.24 595.54 L238.62 594.38 L239 593.23 L239.38 592.07 L239.77 590.91 L240.15 589.76 L240.53 588.6 L240.9 587.44 L241.28 586.28 L241.66 585.13 L242.04 583.97 L242.41 582.81 L242.79 581.65 L243.16 580.49 L243.54 579.34 L243.91 578.18 L244.29 577.02 L244.66 575.86 L245.03 574.7 L245.41 573.54 L245.78 572.38 L246.15 571.22 L246.52 570.06 L246.9 568.9 L247.27 567.74 L247.64 566.58 L248.01 565.42 L248.39 564.26 L248.76 563.1 L249.13 561.95 L249.5 560.79 L249.88 559.63 L250.25 558.47 L250.62 557.31 L250.99 556.15 L251.36 554.99 L251.73 553.83 L252.1 552.67 L252.47 551.51 L252.84 550.35 L253.21 549.19 L253.57 548.02 L253.94 546.86 L254.3 545.7 L254.66 544.54 L255.02 543.37 L255.38 542.21 L255.74 541.05 L256.1 539.88 L256.46 538.72 L256.81 537.55 L257.17 536.39 L257.53 535.22 L257.88 534.06 L258.24 532.9 L258.59 531.73 L258.95 530.57 L259.3 529.4" fill="none" stroke="#000" stroke-width="1.25" stroke-linejoin="round" stroke-linecap="butt"/>
<path d="M200 648.8 L201.22 648.8 L202.43 648.8 L203.65 648.79 L204.87 648.79 L206.08 648.79 L207.3 648.78 L208.52 648.77 L209.73 648.77 L210.94 648.75 L212.16 648.74 L213.37 648.73 L214.58 648.71 L215.79 648.69 L217 648.66 L218.21 648.61 L219.42 648.54 L220.63 648.44 L221.84 648.3 L223.05 648.12 L224.27 647.88 L225.48 647.57 L226.65 647.18 L227.75 646.66 L228.76 646.01 L229.66 645.2 L230.43 644.26 L231.11 643.23 L231.68 642.14 L232.17 641.02 L232.59 639.87 L232.95 638.72 L233.28 637.55 L233.59 636.37 L233.9 635.19 L234.21 634.02 L234.55 632.85 L234.89 631.68 L235.25 630.52 L235.61 629.36 L235.98 628.2 L236.34 627.04 L236.7 625.88 L237.05 624.72 L237.39 623.56 L237.73 622.39 L238.07 621.22 L238.4 620.05 L238.72 618.88 L239.04 617.71 L239.36 616.54 L239.68 615.36 L240 614.19 L240.32 613.02 L240.64 611.85 L240.96 610.67 L241.27 609.5 L241.59 608.33 L241.91 607.15 L242.22 605.98 L242.54 604.81 L242.85 603.63 L243.17 602.46 L243.48 601.29 L243.79 600.11 L244.11 598.94 L244.42 597.76 L244.73 596.59 L245.04 595.41 L245.35 594.24 L245.66 593.06 L245.96 591.89 L246.27 590.71 L246.58 589.54 L246.88 588.36 L247.18 587.18 L247.48 586.01 L247.78 584.83 L248.08 583.65 L248.38 582.48 L248.68 581.3 L248.97 580.12 L249.26 578.94 L249.56 577.76 L249.85 576.58 L250.14 575.4 L250.43 574.22 L250.71 573.04 L251 571.86 L251.29 570.68 L251.57 569.5 L251.86 568.32 L252.15 567.14 L252.43 565.96 L252.72 564.77 L253 563.59 L253.29 562.41 L253.57 561.23 L253.86 560.05 L254.14 558.87 L254.43 557.69 L254.72 556.51 L255 555.33 L255.29 554.15 L255.58 552.97 L255.87 551.79 L256.16 550.61 L256.45 549.43 L256.75 548.25 L257.04 547.07 L257.34 545.89 L257.63 544.71 L257.93 543.53 L258.22 542.36 L258.52 541.18 L258.81 540 L259.11 538.82 L259.41 537.64 L259.71 536.47 L260.01 535.29 L260.3 534.11 L260.6 532.93 L260.9 531.76 L261.2 530.58 L261.5 529.4" fill="none" stroke="#000" stroke-width="1.25" stroke-linejoin="round" stroke-linecap="butt"/>
<rect x="134" y="531" width="31" height="13.9" fill="#fff"/>
<text x="139.7" y="539.7" font-size="5.5">V<tspan dy="1.3" font-size="60%">CE</tspan><tspan dy="-1.3"> = 5V</tspan></text>
<rect x="174.2" y="626" width="26.4" height="6.4" fill="#fff"/>
<text x="174.9" y="631.1" font-size="5.0">Ta = 125<tspan dy="-2" font-size="55%">o</tspan><tspan dy="2">C</tspan></text>
<rect x="210.8" y="626" width="11.2" height="6.4" fill="#fff"/>
<text x="211.3" y="631.1" font-size="5.0">25<tspan dy="-2" font-size="55%">o</tspan><tspan dy="2">C</tspan></text>
<rect x="237" y="626" width="16.6" height="6.4" fill="#fff"/>
<text x="237.7" y="631.1" font-size="5.0">- 25<tspan dy="-2" font-size="55%">o</tspan><tspan dy="2">C</tspan></text>
<rect x="132.6" y="529.4" width="148.2" height="119.9" fill="none" stroke="#000" stroke-width="1.1"/>
<path d="M144.95 649.3v-1.5M144.95 529.4v1.5M157.3 649.3v-1.5M157.3 529.4v1.5M169.65 649.3v-1.5M169.65 529.4v1.5M182 649.3v-1.5M182 529.4v1.5M194.35 649.3v-1.5M194.35 529.4v1.5M206.7 649.3v-1.5M206.7 529.4v1.5M219.05 649.3v-1.5M219.05 529.4v1.5M231.4 649.3v-1.5M231.4 529.4v1.5M243.75 649.3v-1.5M243.75 529.4v1.5M256.1 649.3v-1.5M256.1 529.4v1.5M268.45 649.3v-1.5M268.45 529.4v1.5M132.6 641.81h1.5M280.8 641.81h-1.5M132.6 634.31h1.5M280.8 634.31h-1.5M132.6 626.82h1.5M280.8 626.82h-1.5M132.6 619.32h1.5M280.8 619.32h-1.5M132.6 611.83h1.5M280.8 611.83h-1.5M132.6 604.34h1.5M280.8 604.34h-1.5M132.6 596.84h1.5M280.8 596.84h-1.5M132.6 589.35h1.5M280.8 589.35h-1.5M132.6 581.86h1.5M280.8 581.86h-1.5M132.6 574.36h1.5M280.8 574.36h-1.5M132.6 566.87h1.5M280.8 566.87h-1.5M132.6 559.38h1.5M280.8 559.38h-1.5M132.6 551.88h1.5M280.8 551.88h-1.5M132.6 544.39h1.5M280.8 544.39h-1.5M132.6 536.89h1.5M280.8 536.89h-1.5" stroke="#000" stroke-width="0.9" fill="none"/>
<text x="132.6" y="655.3" font-size="3.9" font-weight="bold" text-anchor="middle" stroke="#000" stroke-width="0.2">0.0</text>
<text x="157.3" y="655.3" font-size="3.9" font-weight="bold" text-anchor="middle" stroke="#000" stroke-width="0.2">0.2</text>
<text x="182" y="655.3" font-size="3.9" font-weight="bold" text-anchor="middle" stroke="#000" stroke-width="0.2">0.4</text>
<text x="206.7" y="655.3" font-size="3.9" font-weight="bold" text-anchor="middle" stroke="#000" stroke-width="0.2">0.6</text>
<text x="231.4" y="655.3" font-size="3.9" font-weight="bold" text-anchor="middle" stroke="#000" stroke-width="0.2">0.8</text>
<text x="256.1" y="655.3" font-size="3.9" font-weight="bold" text-anchor="middle" stroke="#000" stroke-width="0.2">1.0</text>
<text x="280.8" y="655.3" font-size="3.9" font-weight="bold" text-anchor="middle" stroke="#000" stroke-width="0.2">1.2</text>
<text x="129.6" y="650.7" font-size="3.9" font-weight="bold" text-anchor="end" stroke="#000" stroke-width="0.2">0</text>
<text x="129.6" y="635.71" font-size="3.9" font-weight="bold" text-anchor="end" stroke="#000" stroke-width="0.2">2</text>
<text x="129.6" y="620.72" font-size="3.9" font-weight="bold" text-anchor="end" stroke="#000" stroke-width="0.2">4</text>
<text x="129.6" y="605.74" font-size="3.9" font-weight="bold" text-anchor="end" stroke="#000" stroke-width="0.2">6</text>
<text x="129.6" y="590.75" font-size="3.9" font-weight="bold" text-anchor="end" stroke="#000" stroke-width="0.2">8</text>
<text x="129.6" y="575.76" font-size="3.9" font-weight="bold" text-anchor="end" stroke="#000" stroke-width="0.2">10</text>
<text x="129.6" y="560.77" font-size="3.9" font-weight="bold" text-anchor="end" stroke="#000" stroke-width="0.2">12</text>
<text x="129.6" y="545.79" font-size="3.9" font-weight="bold" text-anchor="end" stroke="#000" stroke-width="0.2">14</text>
<text x="129.6" y="530.8" font-size="3.9" font-weight="bold" text-anchor="end" stroke="#000" stroke-width="0.2">16</text>
<text x="159.7" y="670.6" font-size="6">V<tspan dy="1.3" font-size="60%">BE</tspan><tspan dy="-1.3">[V], BASE EMITTER VOLTAGE</tspan></text>
<text x="0" y="0" transform="translate(110.9 634) rotate(-90)" font-size="6">I<tspan dy="1.3" font-size="60%">C</tspan><tspan dy="-1.3">[A], COLLECTOR CURRENT</tspan></text>
<text x="133" y="693.5" font-size="8" font-weight="bold" textLength="130.4">Figure 5. Base-Emitter On Voltage</text>
<path d="M349.5 630.94H497.4M349.5 620.37H497.4M349.5 612.88H497.4M349.5 607.06H497.4M349.5 602.31H497.4M349.5 598.29H497.4M349.5 594.81H497.4M349.5 591.75H497.4M349.5 570.94H497.4M349.5 560.37H497.4M349.5 552.88H497.4M349.5 547.06H497.4M349.5 542.31H497.4M349.5 538.29H497.4M349.5 534.81H497.4M349.5 531.75H497.4" stroke="#a8a8a8" stroke-width="0.9" fill="none"/>
<path d="M368.85 529V649M380.17 529V649M388.2 529V649M394.43 529V649M399.52 529V649M403.82 529V649M407.55 529V649M410.83 529V649M433.12 529V649M444.44 529V649M452.47 529V649M458.7 529V649M463.79 529V649M468.09 529V649M471.82 529V649M475.11 529V649" stroke="#858585" stroke-width="0.6" fill="none"/>
<path d="M349.5 589H497.4" stroke="#777" stroke-width="0.9" fill="none"/>
<path d="M413.78 529V649M478.05 529V649" stroke="#555" stroke-width="0.8" fill="none"/>
<path d="M394.4 546.8 L395.54 547.26 L396.68 547.71 L397.82 548.17 L398.96 548.62 L400.1 549.08 L401.24 549.54 L402.38 549.99 L403.52 550.45 L404.66 550.9 L405.8 551.36 L406.93 551.82 L408.07 552.28 L409.21 552.74 L410.35 553.21 L411.48 553.68 L412.61 554.15 L413.75 554.62 L414.88 555.1 L416.01 555.58 L417.14 556.07 L418.26 556.56 L419.38 557.06 L420.5 557.57 L421.61 558.09 L422.72 558.61 L423.83 559.15 L424.93 559.7 L426.02 560.26 L427.1 560.83 L428.18 561.41 L429.26 562 L430.33 562.6 L431.4 563.21 L432.46 563.83 L433.52 564.44 L434.58 565.06 L435.64 565.69 L436.7 566.31 L437.75 566.93 L438.81 567.56 L439.87 568.18 L440.93 568.8 L441.99 569.41 L443.06 570.02 L444.13 570.62 L445.2 571.22 L446.27 571.82 L447.35 572.41 L448.43 572.99 L449.51 573.57 L450.6 574.15 L451.69 574.71 L452.78 575.27 L453.88 575.81 L454.99 576.34 L456.11 576.85 L457.24 577.33 L458.37 577.79 L459.52 578.23 L460.67 578.66 L461.83 579.08 L462.99 579.48 L464.15 579.87 L465.32 580.24 L466.49 580.61 L467.67 580.96 L468.84 581.31 L470.02 581.66 L471.2 582" fill="none" stroke="#000" stroke-width="1.3" stroke-linejoin="round" stroke-linecap="butt"/>
<path d="M394.4 574.6 L395.28 575.44 L396.16 576.28 L397.04 577.12 L397.92 577.95 L398.81 578.79 L399.69 579.62 L400.58 580.45 L401.48 581.27 L402.38 582.09 L403.28 582.91 L404.18 583.72 L405.08 584.54 L405.98 585.36 L406.88 586.17 L407.78 587 L408.67 587.82 L409.56 588.66 L410.43 589.5 L411.31 590.35 L412.17 591.2 L413.04 592.05 L413.91 592.9 L414.77 593.76 L415.64 594.61 L416.51 595.46 L417.38 596.31 L418.24 597.17 L419.1 598.03 L419.96 598.89 L420.81 599.76 L421.65 600.64 L422.49 601.52 L423.32 602.41 L424.14 603.31 L424.95 604.21 L425.76 605.12 L426.56 606.03 L427.35 606.96 L428.14 607.89 L428.92 608.82 L429.69 609.76 L430.45 610.71 L431.2 611.66 L431.95 612.62 L432.7 613.59 L433.44 614.55 L434.17 615.52 L434.91 616.49 L435.64 617.46 L436.37 618.43 L437.1 619.4 L437.84 620.37 L438.58 621.33 L439.32 622.3 L440.07 623.26 L440.81 624.22 L441.56 625.18 L442.31 626.13 L443.06 627.09 L443.8 628.05 L444.55 629.01 L445.29 629.98 L446.03 630.94 L446.76 631.91 L447.49 632.89 L448.22 633.86 L448.95 634.83 L449.69 635.8 L450.43 636.77 L451.18 637.72 L451.94 638.67 L452.72 639.6 L453.52 640.52 L454.33 641.43 L455.15 642.33 L455.98 643.21 L456.87 644.05 L457.86 644.76 L458.99 645.27 L460.18 645.4 L461.38 645.15 L462.53 644.7 L463.62 644.16 L464.69 643.6 L465.77 643.04 L466.85 642.48 L467.93 641.93 L469.02 641.38 L470.11 640.84 L471.2 640.3" fill="none" stroke="#000" stroke-width="1.3" stroke-linejoin="round" stroke-linecap="butt"/>
<rect x="440" y="531.2" width="55.6" height="20.2" fill="#fff"/>
<text x="443.6" y="540" font-size="5.5">V<tspan dy="1.3" font-size="60%">CC</tspan><tspan dy="-1.3"> = 200V, I</tspan><tspan dy="1.3" font-size="60%">C</tspan><tspan dy="-1.3"> = 8A</tspan></text>
<text x="443.6" y="547" font-size="5.5">I<tspan dy="1.3" font-size="60%">B1</tspan><tspan dy="-1.3"> = 1.6A</tspan></text>
<rect x="429.3" y="550.6" width="9" height="5.6" fill="#fff"/>
<text x="430" y="554.6" font-size="4.8">t<tspan dy="1.3" font-size="60%">STG</tspan><tspan dy="-1.3"></tspan></text>
<rect x="418.8" y="605.6" width="4.6" height="5.6" fill="#fff"/>
<text x="419.5" y="609.6" font-size="4.8">t<tspan dy="1.3" font-size="60%">F</tspan><tspan dy="-1.3"></tspan></text>
<rect x="349.5" y="529" width="147.9" height="120" fill="none" stroke="#000" stroke-width="1.1"/>
<path d="M368.85 649v-1.5M368.85 529v1.5M380.17 649v-1.5M380.17 529v1.5M388.2 649v-1.5M388.2 529v1.5M394.43 649v-1.5M394.43 529v1.5M399.52 649v-1.5M399.52 529v1.5M403.82 649v-1.5M403.82 529v1.5M407.55 649v-1.5M407.55 529v1.5M410.83 649v-1.5M410.83 529v1.5M433.12 649v-1.5M433.12 529v1.5M444.44 649v-1.5M444.44 529v1.5M452.47 649v-1.5M452.47 529v1.5M458.7 649v-1.5M458.7 529v1.5M463.79 649v-1.5M463.79 529v1.5M468.09 649v-1.5M468.09 529v1.5M471.82 649v-1.5M471.82 529v1.5M475.11 649v-1.5M475.11 529v1.5M413.78 649v-1.5M413.78 529v1.5M478.05 649v-1.5M478.05 529v1.5M349.5 630.94h1.5M497.4 630.94h-1.5M349.5 620.37h1.5M497.4 620.37h-1.5M349.5 612.88h1.5M497.4 612.88h-1.5M349.5 607.06h1.5M497.4 607.06h-1.5M349.5 602.31h1.5M497.4 602.31h-1.5M349.5 598.29h1.5M497.4 598.29h-1.5M349.5 594.81h1.5M497.4 594.81h-1.5M349.5 591.75h1.5M497.4 591.75h-1.5M349.5 570.94h1.5M497.4 570.94h-1.5M349.5 560.37h1.5M497.4 560.37h-1.5M349.5 552.88h1.5M497.4 552.88h-1.5M349.5 547.06h1.5M497.4 547.06h-1.5M349.5 542.31h1.5M497.4 542.31h-1.5M349.5 538.29h1.5M497.4 538.29h-1.5M349.5 534.81h1.5M497.4 534.81h-1.5M349.5 531.75h1.5M497.4 531.75h-1.5M349.5 589h1.5M497.4 589h-1.5" stroke="#000" stroke-width="0.9" fill="none"/>
<text x="349.5" y="655" font-size="3.9" font-weight="bold" text-anchor="middle" stroke="#000" stroke-width="0.2">0.1</text>
<text x="413.78" y="655" font-size="3.9" font-weight="bold" text-anchor="middle" stroke="#000" stroke-width="0.2">1</text>
<text x="478.05" y="655" font-size="3.9" font-weight="bold" text-anchor="middle" stroke="#000" stroke-width="0.2">10</text>
<text x="346.5" y="650.4" font-size="3.9" font-weight="bold" text-anchor="end" stroke="#000" stroke-width="0.2">0.1</text>
<text x="346.5" y="590.4" font-size="3.9" font-weight="bold" text-anchor="end" stroke="#000" stroke-width="0.2">1</text>
<text x="346.5" y="530.4" font-size="3.9" font-weight="bold" text-anchor="end" stroke="#000" stroke-width="0.2">10</text>
<text x="374.7" y="670.6" font-size="6">I<tspan dy="1.3" font-size="60%">B2</tspan><tspan dy="-1.3"> [A], REVERSE BASE CURRENT</tspan></text>
<text x="0" y="0" transform="translate(326.1 635.2) rotate(-90)" font-size="5.9">t<tspan dy="1.3" font-size="60%">F</tspan><tspan dy="-1.3"> &amp; t</tspan><tspan dy="1.3" font-size="60%">STG</tspan><tspan dy="-1.3"> [μs], SWITCHING TIME</tspan></text>
<text x="337.8" y="693.5" font-size="8" font-weight="bold">Figure 6. Resistive Load Switching Time</text>
</svg></body></html>
